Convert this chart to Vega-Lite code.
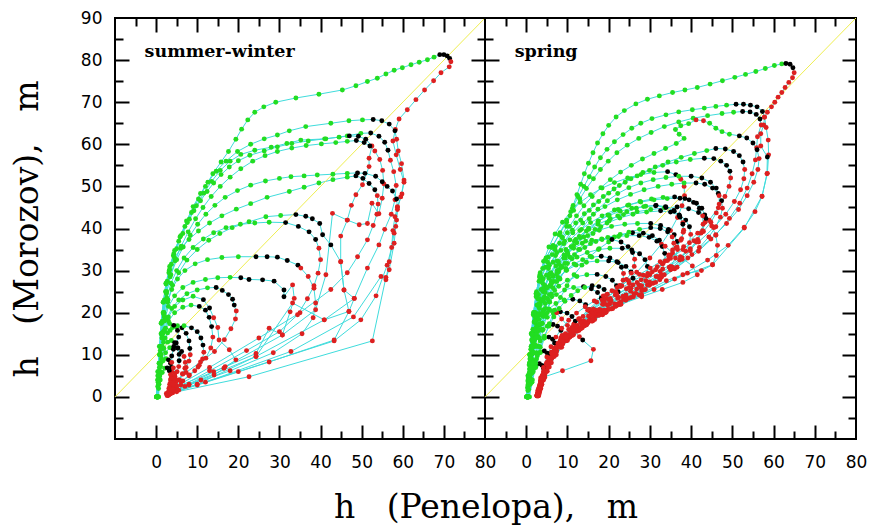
{
"$schema":"https://vega.github.io/schema/vega-lite/v6.json",
"background":"white",
"padding":{"left":10,"top":8,"right":5,"bottom":0},
"bounds":"flush",
"spacing":0,
"config":{"view":{"stroke":"black","strokeWidth":2},"axis":{"domain":false,"grid":false,"tickColor":"black","tickWidth":2,"labelFont":"DejaVu Sans","labelFontSize":17,"labelColor":"black","titleColor":"black","titleFont":"DejaVu Serif","titleFontSize":33,"titleFontWeight":"normal"}},
"datasets":{
"d":[{"x":-10,"y":0},{"x":80,"y":90}],
"a":[
{"t":1,"x":0.2,"y":0,"c":"g"},{"t":1,"x":0.4,"y":5,"c":"g"},{"t":1,"x":0.8,"y":10,"c":"g"},{"t":1,"x":1.2,"y":15,"c":"g"},{"t":1,"x":1.7,"y":20,"c":"g"},{"t":1,"x":2.3,"y":25,"c":"g"},{"t":1,"x":3.1,"y":29.5,"c":"g"},{"t":1,"x":4.2,"y":33.5,"c":"g"},{"t":1,"x":5.5,"y":37,"c":"g"},{"t":1,"x":7,"y":40.5,"c":"g"},{"t":1,"x":8.6,"y":43.8,"c":"g"},{"t":1,"x":10.3,"y":47,"c":"g"},{"t":1,"x":12,"y":50,"c":"g"},{"t":1,"x":13.8,"y":53,"c":"g"},{"t":1,"x":15.8,"y":55.8,"c":"g"},{"t":1,"x":17.6,"y":58.3,"c":"g"},{"t":1,"x":19.4,"y":61.2,"c":"g"},{"t":1,"x":20.8,"y":63.6,"c":"g"},{"t":1,"x":22.3,"y":65.8,"c":"g"},{"t":1,"x":24,"y":67.6,"c":"g"},{"t":1,"x":26.2,"y":68.9,"c":"g"},{"t":1,"x":29.1,"y":70,"c":"g"},{"t":1,"x":34,"y":71,"c":"g"},{"t":1,"x":39.6,"y":71.9,"c":"g"},{"t":1,"x":45.3,"y":72.9,"c":"g"},{"t":1,"x":48.6,"y":73.9,"c":"g"},{"t":1,"x":51.4,"y":74.9,"c":"g"},{"t":1,"x":53.8,"y":75.7,"c":"g"},{"t":1,"x":55.9,"y":76.7,"c":"g"},{"t":1,"x":57.9,"y":77.6,"c":"g"},{"t":1,"x":59.9,"y":78.2,"c":"g"},{"t":1,"x":62,"y":78.9,"c":"g"},{"t":1,"x":64,"y":79.5,"c":"g"},{"t":1,"x":66,"y":80.1,"c":"g"},{"t":1,"x":67.6,"y":80.7,"c":"g"},{"t":1,"x":69,"y":81.3,"c":"k"},{"t":1,"x":70,"y":81.3,"c":"k"},{"t":1,"x":70.8,"y":81,"c":"k"},{"t":1,"x":71.4,"y":80.4,"c":"k"},{"t":1,"x":71.7,"y":79.6,"c":"r"},{"t":1,"x":71.3,"y":78.4,"c":"r"},{"t":1,"x":69.3,"y":77,"c":"r"},{"t":1,"x":67.5,"y":75.1,"c":"r"},{"t":1,"x":65.3,"y":72.9,"c":"r"},{"t":1,"x":63.2,"y":70.6,"c":"r"},{"t":1,"x":61.1,"y":68.2,"c":"r"},{"t":1,"x":59.1,"y":66,"c":"r"},{"t":1,"x":58.2,"y":63.5,"c":"r"},{"t":1,"x":57.6,"y":60.8,"c":"r"},{"t":1,"x":58.4,"y":57.5,"c":"r"},{"t":1,"x":59.4,"y":54,"c":"r"},{"t":1,"x":60.3,"y":51,"c":"r"},{"t":1,"x":59.5,"y":47.5,"c":"r"},{"t":1,"x":58.7,"y":44.5,"c":"r"},{"t":1,"x":58.3,"y":40.5,"c":"r"},{"t":1,"x":57.9,"y":36.5,"c":"r"},{"t":1,"x":56.7,"y":30.2,"c":"r"},{"t":1,"x":55.9,"y":28.4,"c":"r"},{"t":1,"x":52.6,"y":13.3,"c":"r"},{"t":1,"x":22.6,"y":4.8,"c":"r"},{"t":1,"x":5,"y":1.2,"c":"r"},
{"t":2,"x":0.3,"y":0,"c":"g"},{"t":2,"x":0.6,"y":5,"c":"g"},{"t":2,"x":0.9,"y":10,"c":"g"},{"t":2,"x":1.3,"y":15,"c":"g"},{"t":2,"x":1.8,"y":20,"c":"g"},{"t":2,"x":2.4,"y":25,"c":"g"},{"t":2,"x":3.2,"y":30,"c":"g"},{"t":2,"x":4.3,"y":34,"c":"g"},{"t":2,"x":5.8,"y":38,"c":"g"},{"t":2,"x":7.4,"y":41.8,"c":"g"},{"t":2,"x":9,"y":45.2,"c":"g"},{"t":2,"x":10.8,"y":48.3,"c":"g"},{"t":2,"x":12.6,"y":51,"c":"g"},{"t":2,"x":14.6,"y":53.6,"c":"g"},{"t":2,"x":17,"y":56,"c":"g"},{"t":2,"x":19.8,"y":58.3,"c":"g"},{"t":2,"x":23,"y":60,"c":"g"},{"t":2,"x":26.3,"y":61.3,"c":"g"},{"t":2,"x":29.5,"y":62.2,"c":"g"},{"t":2,"x":32.4,"y":63.2,"c":"g"},{"t":2,"x":36.4,"y":64.2,"c":"g"},{"t":2,"x":42.5,"y":65,"c":"g"},{"t":2,"x":46.9,"y":65.6,"c":"g"},{"t":2,"x":50.2,"y":65.8,"c":"g"},{"t":2,"x":52.8,"y":65.9,"c":"k"},{"t":2,"x":54.9,"y":65.6,"c":"k"},{"t":2,"x":56.7,"y":64.8,"c":"k"},{"t":2,"x":58.1,"y":63.2,"c":"k"},{"t":2,"x":58.5,"y":61.2,"c":"r"},{"t":2,"x":58.9,"y":58.4,"c":"r"},{"t":2,"x":59.7,"y":55.4,"c":"r"},{"t":2,"x":60.3,"y":51.5,"c":"r"},{"t":2,"x":59.8,"y":48.2,"c":"r"},{"t":2,"x":58.7,"y":45.2,"c":"r"},{"t":2,"x":58.5,"y":42,"c":"r"},{"t":2,"x":57.9,"y":38.9,"c":"r"},{"t":2,"x":56.7,"y":32.1,"c":"r"},{"t":2,"x":55.9,"y":27.8,"c":"r"},{"t":2,"x":54.7,"y":28.6,"c":"r"},{"t":2,"x":48,"y":19,"c":"r"},{"t":2,"x":32.8,"y":10.8,"c":"r"},{"t":2,"x":12,"y":3.5,"c":"r"},{"t":2,"x":4,"y":1,"c":"r"},
{"t":3,"x":0.5,"y":0,"c":"g"},{"t":3,"x":0.8,"y":6,"c":"g"},{"t":3,"x":1.1,"y":12,"c":"g"},{"t":3,"x":1.5,"y":18,"c":"g"},{"t":3,"x":2,"y":23,"c":"g"},{"t":3,"x":2.7,"y":27.5,"c":"g"},{"t":3,"x":3.7,"y":31.5,"c":"g"},{"t":3,"x":5,"y":35.2,"c":"g"},{"t":3,"x":6.5,"y":38.8,"c":"g"},{"t":3,"x":8.1,"y":42.2,"c":"g"},{"t":3,"x":9.8,"y":45.4,"c":"g"},{"t":3,"x":11.6,"y":48.4,"c":"g"},{"t":3,"x":13.5,"y":51.2,"c":"g"},{"t":3,"x":15.6,"y":53.8,"c":"g"},{"t":3,"x":18,"y":56,"c":"g"},{"t":3,"x":20.6,"y":57.6,"c":"g"},{"t":3,"x":24,"y":58.6,"c":"g"},{"t":3,"x":28,"y":59.3,"c":"g"},{"t":3,"x":31.8,"y":60.2,"c":"g"},{"t":3,"x":35.2,"y":61,"c":"g"},{"t":3,"x":41.3,"y":61.3,"c":"g"},{"t":3,"x":46.5,"y":62,"c":"g"},{"t":3,"x":49.8,"y":62.6,"c":"g"},{"t":3,"x":52.2,"y":62.7,"c":"k"},{"t":3,"x":54.2,"y":61.9,"c":"k"},{"t":3,"x":55.6,"y":60.5,"c":"k"},{"t":3,"x":56.4,"y":58.6,"c":"k"},{"t":3,"x":57,"y":56.2,"c":"r"},{"t":3,"x":57.8,"y":53.5,"c":"r"},{"t":3,"x":58.4,"y":50.2,"c":"r"},{"t":3,"x":58.1,"y":46.8,"c":"r"},{"t":3,"x":57.2,"y":43.4,"c":"r"},{"t":3,"x":55.6,"y":39.8,"c":"r"},{"t":3,"x":54.2,"y":36.1,"c":"r"},{"t":3,"x":51.4,"y":30.6,"c":"r"},{"t":3,"x":48.2,"y":23.4,"c":"r"},{"t":3,"x":40.9,"y":18.3,"c":"r"},{"t":3,"x":24.3,"y":9.6,"c":"r"},{"t":3,"x":8,"y":3,"c":"r"},{"t":3,"x":3,"y":0.8,"c":"r"},
{"t":4,"x":0.2,"y":0,"c":"g"},{"t":4,"x":0.5,"y":6,"c":"g"},{"t":4,"x":0.9,"y":12,"c":"g"},{"t":4,"x":1.3,"y":17.5,"c":"g"},{"t":4,"x":1.8,"y":22.5,"c":"g"},{"t":4,"x":2.4,"y":27,"c":"g"},{"t":4,"x":3.3,"y":31,"c":"g"},{"t":4,"x":4.5,"y":34.8,"c":"g"},{"t":4,"x":6,"y":38.3,"c":"g"},{"t":4,"x":7.6,"y":41.4,"c":"g"},{"t":4,"x":9.2,"y":44.2,"c":"g"},{"t":4,"x":10.8,"y":46.6,"c":"g"},{"t":4,"x":12.4,"y":48.8,"c":"g"},{"t":4,"x":14,"y":50.8,"c":"g"},{"t":4,"x":15.8,"y":52.8,"c":"g"},{"t":4,"x":17.8,"y":54.6,"c":"g"},{"t":4,"x":20,"y":56.1,"c":"g"},{"t":4,"x":22.8,"y":57.4,"c":"g"},{"t":4,"x":26.3,"y":58.4,"c":"g"},{"t":4,"x":29.5,"y":59.4,"c":"g"},{"t":4,"x":33,"y":60.2,"c":"g"},{"t":4,"x":37,"y":60.8,"c":"g"},{"t":4,"x":41,"y":61.3,"c":"g"},{"t":4,"x":44.5,"y":61.7,"c":"g"},{"t":4,"x":47,"y":62,"c":"k"},{"t":4,"x":49.2,"y":61.9,"c":"k"},{"t":4,"x":51,"y":61.2,"c":"k"},{"t":4,"x":52.5,"y":59.6,"c":"r"},{"t":4,"x":51.8,"y":56.7,"c":"r"},{"t":4,"x":51.8,"y":54.7,"c":"r"},{"t":4,"x":50.2,"y":50.4,"c":"r"},{"t":4,"x":48.6,"y":48,"c":"r"},{"t":4,"x":47.5,"y":45.5,"c":"r"},{"t":4,"x":46.5,"y":42,"c":"r"},{"t":4,"x":44.9,"y":38.2,"c":"r"},{"t":4,"x":44.9,"y":32.1,"c":"r"},{"t":4,"x":45.7,"y":25.4,"c":"r"},{"t":4,"x":46.9,"y":20.3,"c":"r"},{"t":4,"x":43.3,"y":13.5,"c":"r"},{"t":4,"x":27.5,"y":8.3,"c":"r"},{"t":4,"x":10,"y":2.8,"c":"r"},{"t":4,"x":3.5,"y":0.8,"c":"r"},
{"t":5,"x":0.4,"y":0,"c":"g"},{"t":5,"x":0.7,"y":5,"c":"g"},{"t":5,"x":1,"y":10,"c":"g"},{"t":5,"x":1.4,"y":15,"c":"g"},{"t":5,"x":1.9,"y":20,"c":"g"},{"t":5,"x":2.5,"y":24.5,"c":"g"},{"t":5,"x":3.4,"y":28.5,"c":"g"},{"t":5,"x":4.6,"y":32.3,"c":"g"},{"t":5,"x":6.1,"y":35.8,"c":"g"},{"t":5,"x":7.8,"y":39.2,"c":"g"},{"t":5,"x":9.6,"y":42.3,"c":"g"},{"t":5,"x":11.4,"y":45,"c":"g"},{"t":5,"x":13.4,"y":47.6,"c":"g"},{"t":5,"x":15.6,"y":50,"c":"g"},{"t":5,"x":18,"y":52.2,"c":"g"},{"t":5,"x":20.6,"y":54.2,"c":"g"},{"t":5,"x":23.5,"y":56,"c":"g"},{"t":5,"x":26.5,"y":57.3,"c":"g"},{"t":5,"x":29.5,"y":58.3,"c":"g"},{"t":5,"x":33,"y":59.1,"c":"g"},{"t":5,"x":36.5,"y":59.7,"c":"g"},{"t":5,"x":40.2,"y":60.1,"c":"g"},{"t":5,"x":43.7,"y":60.4,"c":"g"},{"t":5,"x":46.5,"y":60.7,"c":"g"},{"t":5,"x":48.7,"y":60.9,"c":"k"},{"t":5,"x":50.6,"y":60.4,"c":"k"},{"t":5,"x":52,"y":59.6,"c":"k"},{"t":5,"x":53.2,"y":58.4,"c":"r"},{"t":5,"x":54.4,"y":56.4,"c":"r"},{"t":5,"x":55.1,"y":53.8,"c":"r"},{"t":5,"x":55.4,"y":50.6,"c":"r"},{"t":5,"x":55,"y":47.2,"c":"r"},{"t":5,"x":54.2,"y":43.5,"c":"r"},{"t":5,"x":52.5,"y":46,"c":"r"},{"t":5,"x":51.4,"y":41.2,"c":"r"},{"t":5,"x":49.4,"y":40.9,"c":"r"},{"t":5,"x":46.5,"y":42,"c":"r"},{"t":5,"x":42.9,"y":43.6,"c":"r"},{"t":5,"x":41.3,"y":29,"c":"r"},{"t":5,"x":38.8,"y":20.7,"c":"r"},{"t":5,"x":30.7,"y":14.7,"c":"r"},{"t":5,"x":16.8,"y":7.2,"c":"r"},{"t":5,"x":4.5,"y":1.5,"c":"r"},
{"t":6,"x":0.4,"y":0,"c":"g"},{"t":6,"x":0.7,"y":5,"c":"g"},{"t":6,"x":1,"y":10,"c":"g"},{"t":6,"x":1.4,"y":15,"c":"g"},{"t":6,"x":1.9,"y":20,"c":"g"},{"t":6,"x":2.6,"y":25,"c":"g"},{"t":6,"x":3.6,"y":29,"c":"g"},{"t":6,"x":5,"y":32.6,"c":"g"},{"t":6,"x":6.6,"y":35.6,"c":"g"},{"t":6,"x":8.3,"y":38.4,"c":"g"},{"t":6,"x":10.1,"y":41,"c":"g"},{"t":6,"x":12.1,"y":43.4,"c":"g"},{"t":6,"x":14.3,"y":45.5,"c":"g"},{"t":6,"x":16.8,"y":47.4,"c":"g"},{"t":6,"x":19.8,"y":49,"c":"g"},{"t":6,"x":23,"y":50.3,"c":"g"},{"t":6,"x":26.6,"y":51.3,"c":"g"},{"t":6,"x":30,"y":51.9,"c":"g"},{"t":6,"x":32.8,"y":52.3,"c":"g"},{"t":6,"x":36,"y":52.5,"c":"g"},{"t":6,"x":39.2,"y":52.7,"c":"g"},{"t":6,"x":43,"y":52.9,"c":"g"},{"t":6,"x":46.5,"y":53.1,"c":"g"},{"t":6,"x":49,"y":53.2,"c":"k"},{"t":6,"x":50.8,"y":53.1,"c":"k"},{"t":6,"x":53.4,"y":52.4,"c":"k"},{"t":6,"x":55,"y":51.1,"c":"k"},{"t":6,"x":56.2,"y":50,"c":"k"},{"t":6,"x":57.5,"y":48.9,"c":"k"},{"t":6,"x":58.5,"y":47,"c":"k"},{"t":6,"x":58.7,"y":45,"c":"r"},{"t":6,"x":58.1,"y":42.8,"c":"r"},{"t":6,"x":57.6,"y":39.5,"c":"r"},{"t":6,"x":57.3,"y":35.5,"c":"r"},{"t":6,"x":56.2,"y":31.3,"c":"r"},{"t":6,"x":53.5,"y":24,"c":"r"},{"t":6,"x":49.8,"y":18.3,"c":"r"},{"t":6,"x":43.3,"y":13.3,"c":"r"},{"t":6,"x":20,"y":6,"c":"r"},{"t":6,"x":5.5,"y":1.6,"c":"r"},
{"t":7,"x":0.1,"y":0,"c":"g"},{"t":7,"x":0.4,"y":6,"c":"g"},{"t":7,"x":0.8,"y":12,"c":"g"},{"t":7,"x":1.2,"y":17.5,"c":"g"},{"t":7,"x":1.7,"y":22.5,"c":"g"},{"t":7,"x":2.4,"y":26.8,"c":"g"},{"t":7,"x":3.3,"y":30.3,"c":"g"},{"t":7,"x":4.5,"y":33,"c":"g"},{"t":7,"x":6,"y":35.3,"c":"g"},{"t":7,"x":8,"y":37.4,"c":"g"},{"t":7,"x":10.3,"y":39.4,"c":"g"},{"t":7,"x":13,"y":41.3,"c":"g"},{"t":7,"x":16,"y":43,"c":"g"},{"t":7,"x":19.5,"y":44.6,"c":"g"},{"t":7,"x":23,"y":45.9,"c":"g"},{"t":7,"x":27,"y":47.4,"c":"g"},{"t":7,"x":32.4,"y":48.8,"c":"g"},{"t":7,"x":36,"y":49.8,"c":"g"},{"t":7,"x":39.6,"y":50.8,"c":"g"},{"t":7,"x":43,"y":51.6,"c":"g"},{"t":7,"x":46.5,"y":52.2,"c":"g"},{"t":7,"x":48.6,"y":52.5,"c":"k"},{"t":7,"x":50.3,"y":51.9,"c":"k"},{"t":7,"x":51.8,"y":50.7,"c":"k"},{"t":7,"x":53.2,"y":49.2,"c":"k"},{"t":7,"x":53.8,"y":47.8,"c":"r"},{"t":7,"x":54,"y":45.8,"c":"r"},{"t":7,"x":53.7,"y":43.4,"c":"r"},{"t":7,"x":52.8,"y":40.7,"c":"r"},{"t":7,"x":51.4,"y":37.3,"c":"r"},{"t":7,"x":49,"y":33.3,"c":"r"},{"t":7,"x":46.5,"y":29.5,"c":"r"},{"t":7,"x":42.5,"y":25.5,"c":"r"},{"t":7,"x":35,"y":20,"c":"r"},{"t":7,"x":25,"y":14,"c":"r"},{"t":7,"x":13,"y":7,"c":"r"},{"t":7,"x":4,"y":2,"c":"r"},
{"t":8,"x":0.6,"y":0,"c":"g"},{"t":8,"x":0.9,"y":5,"c":"g"},{"t":8,"x":1.2,"y":10,"c":"g"},{"t":8,"x":1.6,"y":15,"c":"g"},{"t":8,"x":2.1,"y":19,"c":"g"},{"t":8,"x":2.9,"y":23,"c":"g"},{"t":8,"x":4,"y":26.5,"c":"g"},{"t":8,"x":5.5,"y":29.5,"c":"g"},{"t":8,"x":7.5,"y":32.5,"c":"g"},{"t":8,"x":10,"y":35,"c":"g"},{"t":8,"x":12.8,"y":37.2,"c":"g"},{"t":8,"x":15.5,"y":38.8,"c":"g"},{"t":8,"x":18.5,"y":40.2,"c":"g"},{"t":8,"x":22.6,"y":41.6,"c":"g"},{"t":8,"x":26.7,"y":42.8,"c":"g"},{"t":8,"x":30.3,"y":43.1,"c":"g"},{"t":8,"x":34,"y":43.3,"c":"k"},{"t":8,"x":36.4,"y":42.9,"c":"k"},{"t":8,"x":38,"y":42.3,"c":"k"},{"t":8,"x":39.8,"y":41.2,"c":"k"},{"t":8,"x":40.5,"y":38.5,"c":"k"},{"t":8,"x":42.5,"y":36.1,"c":"k"},{"t":8,"x":44.9,"y":32.1,"c":"r"},{"t":8,"x":45.7,"y":25.4,"c":"r"},{"t":8,"x":48.2,"y":23.4,"c":"r"},{"t":8,"x":46.9,"y":20.3,"c":"r"},{"t":8,"x":40.9,"y":18.3,"c":"r"},{"t":8,"x":33.2,"y":22.3,"c":"r"},{"t":8,"x":24.3,"y":9.6,"c":"r"},{"t":8,"x":10,"y":3,"c":"r"},{"t":8,"x":3,"y":0.6,"c":"r"},
{"t":9,"x":0.3,"y":0,"c":"g"},{"t":9,"x":0.6,"y":5,"c":"g"},{"t":9,"x":1,"y":10,"c":"g"},{"t":9,"x":1.4,"y":15,"c":"g"},{"t":9,"x":1.9,"y":19.5,"c":"g"},{"t":9,"x":2.6,"y":23.5,"c":"g"},{"t":9,"x":3.6,"y":27,"c":"g"},{"t":9,"x":5,"y":30,"c":"g"},{"t":9,"x":6.8,"y":33,"c":"g"},{"t":9,"x":9,"y":35.5,"c":"g"},{"t":9,"x":11.5,"y":37.5,"c":"g"},{"t":9,"x":14,"y":39,"c":"g"},{"t":9,"x":17,"y":40.2,"c":"g"},{"t":9,"x":20.5,"y":41,"c":"g"},{"t":9,"x":24,"y":41.3,"c":"g"},{"t":9,"x":27.5,"y":41.5,"c":"g"},{"t":9,"x":31.5,"y":41.4,"c":"k"},{"t":9,"x":34.6,"y":40.5,"c":"k"},{"t":9,"x":37.2,"y":39.2,"c":"k"},{"t":9,"x":38.8,"y":37.4,"c":"k"},{"t":9,"x":39.6,"y":35.3,"c":"r"},{"t":9,"x":40,"y":32.6,"c":"r"},{"t":9,"x":39.4,"y":29.4,"c":"r"},{"t":9,"x":38.4,"y":26.4,"c":"r"},{"t":9,"x":36.8,"y":23.3,"c":"r"},{"t":9,"x":34.4,"y":19.5,"c":"r"},{"t":9,"x":30,"y":15.5,"c":"r"},{"t":9,"x":22,"y":11,"c":"r"},{"t":9,"x":13,"y":6.2,"c":"r"},{"t":9,"x":5,"y":2,"c":"r"},
{"t":10,"x":0.5,"y":0,"c":"g"},{"t":10,"x":0.8,"y":5,"c":"g"},{"t":10,"x":1.1,"y":10,"c":"g"},{"t":10,"x":1.5,"y":15,"c":"g"},{"t":10,"x":2,"y":19,"c":"g"},{"t":10,"x":2.8,"y":22.5,"c":"g"},{"t":10,"x":3.8,"y":25.5,"c":"g"},{"t":10,"x":5.2,"y":28,"c":"g"},{"t":10,"x":7,"y":30,"c":"g"},{"t":10,"x":9.5,"y":31.6,"c":"g"},{"t":10,"x":12.5,"y":32.6,"c":"g"},{"t":10,"x":16,"y":33.1,"c":"g"},{"t":10,"x":20,"y":33.3,"c":"g"},{"t":10,"x":24.3,"y":33.3,"c":"k"},{"t":10,"x":27,"y":33.3,"c":"k"},{"t":10,"x":29.5,"y":33.2,"c":"k"},{"t":10,"x":31.9,"y":32.4,"c":"k"},{"t":10,"x":34.5,"y":31.3,"c":"k"},{"t":10,"x":35.2,"y":30.6,"c":"r"},{"t":10,"x":37,"y":28.6,"c":"r"},{"t":10,"x":38.4,"y":25.8,"c":"r"},{"t":10,"x":38.8,"y":22.3,"c":"r"},{"t":10,"x":38.2,"y":18.8,"c":"r"},{"t":10,"x":35.5,"y":15,"c":"r"},{"t":10,"x":28.5,"y":10.5,"c":"r"},{"t":10,"x":18,"y":6.2,"c":"r"},{"t":10,"x":8,"y":2.8,"c":"r"},{"t":10,"x":3,"y":0.8,"c":"r"},
{"t":11,"x":0.3,"y":0,"c":"g"},{"t":11,"x":0.6,"y":5,"c":"g"},{"t":11,"x":1,"y":10,"c":"g"},{"t":11,"x":1.4,"y":14,"c":"g"},{"t":11,"x":2,"y":18,"c":"g"},{"t":11,"x":3,"y":21.5,"c":"g"},{"t":11,"x":4.5,"y":24,"c":"g"},{"t":11,"x":6.5,"y":26,"c":"g"},{"t":11,"x":9,"y":27.2,"c":"g"},{"t":11,"x":12,"y":27.9,"c":"g"},{"t":11,"x":15,"y":28.3,"c":"g"},{"t":11,"x":18,"y":28.4,"c":"g"},{"t":11,"x":20.6,"y":28.3,"c":"k"},{"t":11,"x":22.6,"y":27.9,"c":"k"},{"t":11,"x":25.9,"y":27.8,"c":"k"},{"t":11,"x":28.7,"y":27.5,"c":"k"},{"t":11,"x":31.1,"y":25.4,"c":"k"},{"t":11,"x":31.1,"y":23.8,"c":"k"},{"t":11,"x":33.2,"y":26.6,"c":"r"},{"t":11,"x":33.6,"y":23.4,"c":"r"},{"t":11,"x":32.6,"y":20.2,"c":"r"},{"t":11,"x":30.7,"y":14.7,"c":"r"},{"t":11,"x":27.5,"y":16.3,"c":"r"},{"t":11,"x":24.3,"y":10.3,"c":"r"},{"t":11,"x":14,"y":6,"c":"r"},{"t":11,"x":6,"y":2.8,"c":"r"},{"t":11,"x":2.5,"y":0.8,"c":"r"},
{"t":12,"x":0.1,"y":0,"c":"g"},{"t":12,"x":0.4,"y":4,"c":"g"},{"t":12,"x":0.8,"y":8,"c":"g"},{"t":12,"x":1.2,"y":12,"c":"g"},{"t":12,"x":1.7,"y":15.5,"c":"g"},{"t":12,"x":2.5,"y":18.5,"c":"g"},{"t":12,"x":3.8,"y":21,"c":"g"},{"t":12,"x":5.5,"y":23,"c":"g"},{"t":12,"x":7.5,"y":24.5,"c":"g"},{"t":12,"x":10,"y":25.4,"c":"g"},{"t":12,"x":12.5,"y":25.9,"c":"g"},{"t":12,"x":14.6,"y":26,"c":"k"},{"t":12,"x":16.1,"y":25.3,"c":"k"},{"t":12,"x":17.6,"y":24.3,"c":"k"},{"t":12,"x":18.6,"y":23.2,"c":"k"},{"t":12,"x":19,"y":21.8,"c":"k"},{"t":12,"x":19.5,"y":20.4,"c":"r"},{"t":12,"x":19.3,"y":18.5,"c":"r"},{"t":12,"x":18.2,"y":16.2,"c":"r"},{"t":12,"x":16.6,"y":13.6,"c":"r"},{"t":12,"x":14.2,"y":10.8,"c":"r"},{"t":12,"x":10.8,"y":8.3,"c":"r"},{"t":12,"x":7.3,"y":5.8,"c":"r"},{"t":12,"x":4.8,"y":3.6,"c":"r"},{"t":12,"x":3.2,"y":1.6,"c":"r"},{"t":12,"x":2.6,"y":0.5,"c":"r"},
{"t":13,"x":0.4,"y":0,"c":"g"},{"t":13,"x":0.7,"y":4,"c":"g"},{"t":13,"x":1,"y":8,"c":"g"},{"t":13,"x":1.4,"y":12,"c":"g"},{"t":13,"x":2,"y":15.5,"c":"g"},{"t":13,"x":3,"y":18,"c":"g"},{"t":13,"x":4.5,"y":20,"c":"g"},{"t":13,"x":6.5,"y":21.3,"c":"g"},{"t":13,"x":8.5,"y":21.8,"c":"g"},{"t":13,"x":10.5,"y":21.5,"c":"k"},{"t":13,"x":12,"y":20.6,"c":"k"},{"t":13,"x":12.9,"y":18.9,"c":"k"},{"t":13,"x":13.5,"y":16.7,"c":"k"},{"t":13,"x":13.8,"y":14.2,"c":"r"},{"t":13,"x":13.3,"y":11.6,"c":"r"},{"t":13,"x":12.1,"y":9.2,"c":"r"},{"t":13,"x":10.2,"y":7.1,"c":"r"},{"t":13,"x":8.1,"y":5.2,"c":"r"},{"t":13,"x":6.1,"y":3.6,"c":"r"},{"t":13,"x":4.3,"y":2.1,"c":"r"},{"t":13,"x":3.3,"y":0.8,"c":"r"},
{"t":14,"x":0.2,"y":0,"c":"g"},{"t":14,"x":0.5,"y":3.5,"c":"g"},{"t":14,"x":0.8,"y":7,"c":"g"},{"t":14,"x":1.2,"y":10,"c":"g"},{"t":14,"x":1.8,"y":13,"c":"g"},{"t":14,"x":2.8,"y":15.2,"c":"g"},{"t":14,"x":4,"y":16.5,"c":"g"},{"t":14,"x":5.2,"y":16.9,"c":"g"},{"t":14,"x":6.3,"y":16.4,"c":"k"},{"t":14,"x":7.3,"y":15.1,"c":"k"},{"t":14,"x":8,"y":13.3,"c":"k"},{"t":14,"x":8.2,"y":11.5,"c":"k"},{"t":14,"x":8.3,"y":10,"c":"r"},{"t":14,"x":8,"y":8.5,"c":"r"},{"t":14,"x":7.3,"y":7,"c":"r"},{"t":14,"x":6.4,"y":5.5,"c":"r"},{"t":14,"x":5.4,"y":4,"c":"r"},{"t":14,"x":4.4,"y":2.8,"c":"r"},{"t":14,"x":3.6,"y":1.5,"c":"r"},{"t":14,"x":3,"y":0.5,"c":"r"},
{"t":15,"x":0.3,"y":0,"c":"g"},{"t":15,"x":0.6,"y":3,"c":"g"},{"t":15,"x":0.9,"y":6,"c":"g"},{"t":15,"x":1.3,"y":9,"c":"g"},{"t":15,"x":1.9,"y":11.5,"c":"g"},{"t":15,"x":2.8,"y":13,"c":"g"},{"t":15,"x":3.7,"y":13.4,"c":"g"},{"t":15,"x":4.5,"y":12.9,"c":"k"},{"t":15,"x":5.2,"y":11.6,"c":"k"},{"t":15,"x":5.6,"y":10.1,"c":"k"},{"t":15,"x":5.6,"y":8.6,"c":"k"},{"t":15,"x":5.5,"y":7.2,"c":"r"},{"t":15,"x":5.1,"y":6,"c":"r"},{"t":15,"x":4.6,"y":4.8,"c":"r"},{"t":15,"x":4.1,"y":3.6,"c":"r"},{"t":15,"x":3.6,"y":2.4,"c":"r"},{"t":15,"x":3.2,"y":1.3,"c":"r"},{"t":15,"x":2.9,"y":0.4,"c":"r"},
{"t":16,"x":0.1,"y":0,"c":"g"},{"t":16,"x":0.4,"y":2.5,"c":"g"},{"t":16,"x":0.7,"y":5,"c":"g"},{"t":16,"x":1.1,"y":7.2,"c":"g"},{"t":16,"x":1.7,"y":8.6,"c":"g"},{"t":16,"x":2.4,"y":9.1,"c":"g"},{"t":16,"x":3,"y":8.8,"c":"k"},{"t":16,"x":3.5,"y":8,"c":"k"},{"t":16,"x":3.7,"y":7,"c":"k"},{"t":16,"x":3.8,"y":6,"c":"r"},{"t":16,"x":3.7,"y":5,"c":"r"},{"t":16,"x":3.5,"y":4,"c":"r"},{"t":16,"x":3.3,"y":3,"c":"r"},{"t":16,"x":3.1,"y":2,"c":"r"},{"t":16,"x":2.9,"y":1,"c":"r"},{"t":16,"x":2.7,"y":0.3,"c":"r"},
{"t":17,"x":0.5,"y":0,"c":"g"},{"t":17,"x":0.8,"y":4,"c":"g"},{"t":17,"x":1.1,"y":8,"c":"g"},{"t":17,"x":1.5,"y":12,"c":"g"},{"t":17,"x":2.1,"y":16,"c":"g"},{"t":17,"x":3,"y":19,"c":"g"},{"t":17,"x":4.5,"y":21.5,"c":"g"},{"t":17,"x":6.5,"y":23,"c":"g"},{"t":17,"x":9,"y":23.9,"c":"g"},{"t":17,"x":11.5,"y":23.1,"c":"k"},{"t":17,"x":13,"y":21.1,"c":"k"},{"t":17,"x":14,"y":18.8,"c":"r"},{"t":17,"x":15,"y":16.5,"c":"r"},{"t":17,"x":15.3,"y":13.5,"c":"r"},{"t":17,"x":17.8,"y":11.2,"c":"r"},{"t":17,"x":19.4,"y":8.8,"c":"r"},{"t":17,"x":16.5,"y":6.8,"c":"r"},{"t":17,"x":14.1,"y":5.2,"c":"r"},{"t":17,"x":10.9,"y":4,"c":"r"},{"t":17,"x":7,"y":2.5,"c":"r"},{"t":17,"x":4,"y":1,"c":"r"},
{"t":18,"x":0.2,"y":0,"c":"g"},{"t":18,"x":0.5,"y":4,"c":"g"},{"t":18,"x":0.9,"y":8,"c":"g"},{"t":18,"x":1.4,"y":11.5,"c":"g"},{"t":18,"x":2.2,"y":14,"c":"g"},{"t":18,"x":3.4,"y":15.8,"c":"g"},{"t":18,"x":5,"y":16.6,"c":"g"},{"t":18,"x":6.8,"y":16.9,"c":"g"},{"t":18,"x":8.6,"y":16.4,"c":"k"},{"t":18,"x":10,"y":15.5,"c":"k"},{"t":18,"x":10.9,"y":14,"c":"k"},{"t":18,"x":11.4,"y":12.3,"c":"k"},{"t":18,"x":11.6,"y":10.6,"c":"r"},{"t":18,"x":11.3,"y":9,"c":"r"},{"t":18,"x":10.5,"y":7.5,"c":"r"},{"t":18,"x":9.4,"y":6.2,"c":"r"},{"t":18,"x":8,"y":5,"c":"r"},{"t":18,"x":6.5,"y":3.8,"c":"r"},{"t":18,"x":5,"y":2.6,"c":"r"},{"t":18,"x":3.7,"y":1.4,"c":"r"},{"t":18,"x":3,"y":0.4,"c":"r"},
{"t":19,"x":0.4,"y":0,"c":"g"},{"t":19,"x":0.7,"y":3,"c":"g"},{"t":19,"x":1,"y":6,"c":"g"},{"t":19,"x":1.5,"y":8.5,"c":"g"},{"t":19,"x":2.3,"y":10.5,"c":"g"},{"t":19,"x":3.3,"y":11.7,"c":"g"},{"t":19,"x":4.3,"y":12,"c":"k"},{"t":19,"x":5.3,"y":11.6,"c":"k"},{"t":19,"x":6.2,"y":10.8,"c":"k"},{"t":19,"x":6.8,"y":9.6,"c":"r"},{"t":19,"x":7.1,"y":8.2,"c":"r"},{"t":19,"x":7,"y":6.8,"c":"r"},{"t":19,"x":6.5,"y":5.4,"c":"r"},{"t":19,"x":5.7,"y":4,"c":"r"},{"t":19,"x":4.8,"y":2.8,"c":"r"},{"t":19,"x":4,"y":1.7,"c":"r"},{"t":19,"x":3.4,"y":0.7,"c":"r"},
{"t":20,"x":0.3,"y":0,"c":"g"},{"t":20,"x":0.6,"y":2,"c":"g"},{"t":20,"x":1,"y":4,"c":"g"},{"t":20,"x":1.5,"y":5.8,"c":"g"},{"t":20,"x":2.1,"y":6.8,"c":"g"},{"t":20,"x":2.7,"y":6.9,"c":"k"},{"t":20,"x":3.2,"y":6.2,"c":"k"},{"t":20,"x":3.5,"y":5.3,"c":"r"},{"t":20,"x":3.6,"y":4.3,"c":"r"},{"t":20,"x":3.5,"y":3.3,"c":"r"},{"t":20,"x":3.3,"y":2.3,"c":"r"},{"t":20,"x":3.1,"y":1.3,"c":"r"},{"t":20,"x":2.9,"y":0.5,"c":"r"},
{"t":21,"x":0.1,"y":0,"c":"g"},{"t":21,"x":0.4,"y":4,"c":"g"},{"t":21,"x":0.7,"y":8,"c":"g"},{"t":21,"x":1,"y":11,"c":"g"},{"t":21,"x":1.5,"y":14,"c":"g"},{"t":21,"x":2.3,"y":16.3,"c":"g"},{"t":21,"x":3.3,"y":17.4,"c":"g"},{"t":21,"x":4.3,"y":17,"c":"k"},{"t":21,"x":5.2,"y":15.8,"c":"k"},{"t":21,"x":5.5,"y":14.2,"c":"k"},{"t":21,"x":4.9,"y":12.8,"c":"k"},{"t":21,"x":4.2,"y":11.3,"c":"k"},{"t":21,"x":3.8,"y":9.7,"c":"k"},{"t":21,"x":3.8,"y":8.2,"c":"r"},{"t":21,"x":4.2,"y":6.9,"c":"r"},{"t":21,"x":4.6,"y":5.6,"c":"r"},{"t":21,"x":4.5,"y":4.3,"c":"r"},{"t":21,"x":4.1,"y":3,"c":"r"},{"t":21,"x":3.6,"y":1.8,"c":"r"},{"t":21,"x":3.2,"y":0.6,"c":"r"}
],
"b":[
{"t":1,"x":0.2,"y":0,"c":"g"},{"t":1,"x":0.5,"y":4,"c":"g"},{"t":1,"x":0.8,"y":8,"c":"g"},{"t":1,"x":1.2,"y":12,"c":"g"},{"t":1,"x":1.6,"y":16,"c":"g"},{"t":1,"x":2.1,"y":20,"c":"g"},{"t":1,"x":2.6,"y":24,"c":"g"},{"t":1,"x":3.1,"y":27.5,"c":"g"},{"t":1,"x":4,"y":30.5,"c":"g"},{"t":1,"x":5.3,"y":33.2,"c":"g"},{"t":1,"x":7,"y":35.7,"c":"g"},{"t":1,"x":8.6,"y":38,"c":"g"},{"t":1,"x":9.8,"y":40.5,"c":"g"},{"t":1,"x":10.6,"y":43,"c":"g"},{"t":1,"x":11.4,"y":45.5,"c":"g"},{"t":1,"x":12.3,"y":48,"c":"g"},{"t":1,"x":13.2,"y":50.5,"c":"g"},{"t":1,"x":14.1,"y":53,"c":"g"},{"t":1,"x":15.1,"y":55.5,"c":"g"},{"t":1,"x":16.2,"y":58,"c":"g"},{"t":1,"x":17.3,"y":60.3,"c":"g"},{"t":1,"x":18.6,"y":62.5,"c":"g"},{"t":1,"x":20,"y":64.5,"c":"g"},{"t":1,"x":21.8,"y":66.5,"c":"g"},{"t":1,"x":23.8,"y":68,"c":"g"},{"t":1,"x":26.6,"y":69.6,"c":"g"},{"t":1,"x":29.4,"y":70.7,"c":"g"},{"t":1,"x":32.3,"y":71.5,"c":"g"},{"t":1,"x":35.5,"y":72.3,"c":"g"},{"t":1,"x":38.5,"y":72.9,"c":"g"},{"t":1,"x":41.5,"y":73.5,"c":"g"},{"t":1,"x":44.6,"y":74.3,"c":"g"},{"t":1,"x":47.6,"y":75.1,"c":"g"},{"t":1,"x":50.6,"y":75.9,"c":"g"},{"t":1,"x":53.2,"y":76.6,"c":"g"},{"t":1,"x":55.7,"y":77.3,"c":"g"},{"t":1,"x":58,"y":78,"c":"g"},{"t":1,"x":60.2,"y":78.7,"c":"g"},{"t":1,"x":62,"y":79.1,"c":"g"},{"t":1,"x":63,"y":79.2,"c":"k"},{"t":1,"x":64,"y":79,"c":"k"},{"t":1,"x":64.7,"y":78.2,"c":"k"},{"t":1,"x":65,"y":77,"c":"r"},{"t":1,"x":64.6,"y":75.8,"c":"r"},{"t":1,"x":63.7,"y":74.7,"c":"r"},{"t":1,"x":62.8,"y":73.5,"c":"r"},{"t":1,"x":62,"y":72.3,"c":"r"},{"t":1,"x":61.1,"y":71.2,"c":"r"},{"t":1,"x":60.3,"y":70,"c":"r"},{"t":1,"x":59.5,"y":68.9,"c":"r"},{"t":1,"x":58.5,"y":67.6,"c":"r"},{"t":1,"x":57.8,"y":66.5,"c":"r"},{"t":1,"x":58.2,"y":64,"c":"r"},{"t":1,"x":58.7,"y":61,"c":"r"},{"t":1,"x":58.8,"y":57.5,"c":"r"},{"t":1,"x":58.5,"y":53.1,"c":"r"},{"t":1,"x":57.2,"y":47.7,"c":"r"},{"t":1,"x":52.9,"y":40.1,"c":"r"},{"t":1,"x":45.2,"y":31.4,"c":"r"},{"t":1,"x":36,"y":28,"c":"r"},{"t":1,"x":28,"y":24.2,"c":"r"},{"t":1,"x":21,"y":21,"c":"r"},{"t":1,"x":15,"y":17.6,"c":"r"},{"t":1,"x":10,"y":14.2,"c":"r"},{"t":1,"x":7,"y":10.6,"c":"r"},{"t":1,"x":5,"y":7,"c":"r"},{"t":1,"x":3.8,"y":3.8,"c":"r"},{"t":1,"x":3,"y":1,"c":"r"},
{"t":2,"x":0.4,"y":0,"c":"g"},{"t":2,"x":0.7,"y":5,"c":"g"},{"t":2,"x":1,"y":10,"c":"g"},{"t":2,"x":1.4,"y":15,"c":"g"},{"t":2,"x":1.9,"y":20,"c":"g"},{"t":2,"x":2.5,"y":25,"c":"g"},{"t":2,"x":3.4,"y":29.5,"c":"g"},{"t":2,"x":4.8,"y":33,"c":"g"},{"t":2,"x":6.5,"y":36,"c":"g"},{"t":2,"x":8.2,"y":39,"c":"g"},{"t":2,"x":9.8,"y":42,"c":"g"},{"t":2,"x":11.2,"y":44.8,"c":"g"},{"t":2,"x":12.6,"y":47.5,"c":"g"},{"t":2,"x":14,"y":50,"c":"g"},{"t":2,"x":15.3,"y":52.3,"c":"g"},{"t":2,"x":16.6,"y":54.6,"c":"g"},{"t":2,"x":18,"y":56.8,"c":"g"},{"t":2,"x":19.6,"y":58.8,"c":"g"},{"t":2,"x":21.4,"y":60.6,"c":"g"},{"t":2,"x":23.5,"y":62.3,"c":"g"},{"t":2,"x":25.6,"y":63.8,"c":"g"},{"t":2,"x":27.8,"y":65,"c":"g"},{"t":2,"x":30.5,"y":66.1,"c":"g"},{"t":2,"x":33.9,"y":67,"c":"g"},{"t":2,"x":37,"y":67.7,"c":"g"},{"t":2,"x":40.3,"y":68.2,"c":"g"},{"t":2,"x":43.2,"y":68.6,"c":"g"},{"t":2,"x":46,"y":69,"c":"g"},{"t":2,"x":48.6,"y":69.3,"c":"g"},{"t":2,"x":50.9,"y":69.5,"c":"k"},{"t":2,"x":52.7,"y":69.5,"c":"k"},{"t":2,"x":54.4,"y":69.3,"c":"k"},{"t":2,"x":56,"y":68.9,"c":"k"},{"t":2,"x":57.3,"y":67.8,"c":"k"},{"t":2,"x":57.8,"y":66.4,"c":"r"},{"t":2,"x":57.6,"y":64.6,"c":"r"},{"t":2,"x":56.9,"y":62.5,"c":"r"},{"t":2,"x":56.9,"y":59.6,"c":"r"},{"t":2,"x":58.5,"y":57,"c":"k"},{"t":2,"x":58.4,"y":53,"c":"r"},{"t":2,"x":57.2,"y":47.6,"c":"r"},{"t":2,"x":55.5,"y":44,"c":"r"},{"t":2,"x":52.9,"y":40.3,"c":"r"},{"t":2,"x":49,"y":36,"c":"r"},{"t":2,"x":44,"y":32.5,"c":"r"},{"t":2,"x":38,"y":29,"c":"r"},{"t":2,"x":31,"y":25.5,"c":"r"},{"t":2,"x":22,"y":22,"c":"r"},{"t":2,"x":16.5,"y":18.8,"c":"r"},{"t":2,"x":11.5,"y":15.8,"c":"r"},{"t":2,"x":8,"y":12.5,"c":"r"},{"t":2,"x":5.8,"y":9,"c":"r"},{"t":2,"x":4.3,"y":5.5,"c":"r"},{"t":2,"x":3.2,"y":2,"c":"r"},{"t":2,"x":2.6,"y":0.3,"c":"r"},
{"t":3,"x":0.2,"y":0,"c":"g"},{"t":3,"x":0.5,"y":5,"c":"g"},{"t":3,"x":0.9,"y":10,"c":"g"},{"t":3,"x":1.3,"y":15,"c":"g"},{"t":3,"x":1.8,"y":20,"c":"g"},{"t":3,"x":2.4,"y":24.5,"c":"g"},{"t":3,"x":3.3,"y":29,"c":"g"},{"t":3,"x":4.6,"y":32.5,"c":"g"},{"t":3,"x":6.2,"y":35.5,"c":"g"},{"t":3,"x":8,"y":38.5,"c":"g"},{"t":3,"x":9.8,"y":41.5,"c":"g"},{"t":3,"x":11.5,"y":44.3,"c":"g"},{"t":3,"x":13,"y":47,"c":"g"},{"t":3,"x":14.6,"y":49.5,"c":"g"},{"t":3,"x":16.3,"y":51.8,"c":"g"},{"t":3,"x":18,"y":54,"c":"g"},{"t":3,"x":19.9,"y":56,"c":"g"},{"t":3,"x":22,"y":58,"c":"g"},{"t":3,"x":24.5,"y":59.8,"c":"g"},{"t":3,"x":27.3,"y":61.4,"c":"g"},{"t":3,"x":30.3,"y":62.8,"c":"g"},{"t":3,"x":33.5,"y":64.2,"c":"g"},{"t":3,"x":37,"y":65.3,"c":"g"},{"t":3,"x":40.5,"y":66.2,"c":"g"},{"t":3,"x":44,"y":66.8,"c":"g"},{"t":3,"x":47.5,"y":67.3,"c":"g"},{"t":3,"x":50.3,"y":67.6,"c":"g"},{"t":3,"x":52.5,"y":67.8,"c":"k"},{"t":3,"x":54.3,"y":67.7,"c":"k"},{"t":3,"x":55.8,"y":67.1,"c":"k"},{"t":3,"x":56.7,"y":66,"c":"k"},{"t":3,"x":57,"y":64.6,"c":"r"},{"t":3,"x":56.1,"y":61.8,"c":"r"},{"t":3,"x":55.9,"y":59.2,"c":"r"},{"t":3,"x":55.6,"y":56.3,"c":"r"},{"t":3,"x":54.8,"y":53,"c":"r"},{"t":3,"x":53.6,"y":49.6,"c":"r"},{"t":3,"x":51.8,"y":46,"c":"r"},{"t":3,"x":49.3,"y":42.4,"c":"r"},{"t":3,"x":46,"y":38.5,"c":"r"},{"t":3,"x":41.8,"y":34.6,"c":"r"},{"t":3,"x":36.6,"y":30.8,"c":"r"},{"t":3,"x":30.8,"y":27,"c":"r"},{"t":3,"x":24.8,"y":23.4,"c":"r"},{"t":3,"x":17.5,"y":20,"c":"r"},{"t":3,"x":12.5,"y":16.5,"c":"r"},{"t":3,"x":8.6,"y":13.5,"c":"r"},{"t":3,"x":6.3,"y":10.5,"c":"r"},{"t":3,"x":4.7,"y":7.3,"c":"r"},{"t":3,"x":3.6,"y":4,"c":"r"},{"t":3,"x":2.9,"y":1.2,"c":"r"},
{"t":4,"x":0.3,"y":0,"c":"g"},{"t":4,"x":0.6,"y":5,"c":"g"},{"t":4,"x":1,"y":10,"c":"g"},{"t":4,"x":1.4,"y":15,"c":"g"},{"t":4,"x":2,"y":20,"c":"g"},{"t":4,"x":2.7,"y":24.5,"c":"g"},{"t":4,"x":3.7,"y":28.5,"c":"g"},{"t":4,"x":5.2,"y":32,"c":"g"},{"t":4,"x":7,"y":35,"c":"g"},{"t":4,"x":8.8,"y":37.8,"c":"g"},{"t":4,"x":10.5,"y":40.5,"c":"g"},{"t":4,"x":12.2,"y":43,"c":"g"},{"t":4,"x":14,"y":45.4,"c":"g"},{"t":4,"x":16,"y":47.6,"c":"g"},{"t":4,"x":18.1,"y":49.7,"c":"g"},{"t":4,"x":20.4,"y":51.6,"c":"g"},{"t":4,"x":22.9,"y":53.4,"c":"g"},{"t":4,"x":25.5,"y":55,"c":"g"},{"t":4,"x":28.2,"y":56.5,"c":"g"},{"t":4,"x":31,"y":57.8,"c":"g"},{"t":4,"x":33.8,"y":59,"c":"g"},{"t":4,"x":36.4,"y":60.2,"c":"g"},{"t":4,"x":38.3,"y":61.4,"c":"g"},{"t":4,"x":37.1,"y":62.4,"c":"g"},{"t":4,"x":36.2,"y":63.5,"c":"g"},{"t":4,"x":37.5,"y":64.4,"c":"g"},{"t":4,"x":39.4,"y":64.9,"c":"g"},{"t":4,"x":41.2,"y":65.8,"c":"r"},{"t":4,"x":43,"y":65.6,"c":"r"},{"t":4,"x":44.5,"y":65,"c":"g"},{"t":4,"x":46,"y":63.8,"c":"g"},{"t":4,"x":47.5,"y":63,"c":"g"},{"t":4,"x":49.3,"y":62.4,"c":"g"},{"t":4,"x":51.7,"y":62,"c":"k"},{"t":4,"x":53.5,"y":61.5,"c":"k"},{"t":4,"x":55,"y":60.3,"c":"k"},{"t":4,"x":56,"y":58.7,"c":"k"},{"t":4,"x":56.5,"y":56.6,"c":"r"},{"t":4,"x":56.2,"y":54,"c":"r"},{"t":4,"x":55.2,"y":51,"c":"r"},{"t":4,"x":53.6,"y":47.8,"c":"r"},{"t":4,"x":51.5,"y":44.5,"c":"r"},{"t":4,"x":48.6,"y":41.2,"c":"r"},{"t":4,"x":44.8,"y":37.5,"c":"r"},{"t":4,"x":40.2,"y":33.8,"c":"r"},{"t":4,"x":35,"y":30.2,"c":"r"},{"t":4,"x":29.4,"y":26.6,"c":"r"},{"t":4,"x":23.6,"y":23.4,"c":"r"},{"t":4,"x":18.3,"y":20.4,"c":"r"},{"t":4,"x":13.5,"y":17.3,"c":"r"},{"t":4,"x":9.5,"y":14.3,"c":"r"},{"t":4,"x":6.9,"y":11.3,"c":"r"},{"t":4,"x":5,"y":8.2,"c":"r"},{"t":4,"x":3.9,"y":5,"c":"r"},{"t":4,"x":3.1,"y":2,"c":"r"},{"t":4,"x":2.7,"y":0.5,"c":"r"},
{"t":5,"x":0.5,"y":0,"c":"g"},{"t":5,"x":0.8,"y":5,"c":"g"},{"t":5,"x":1.1,"y":10,"c":"g"},{"t":5,"x":1.6,"y":15,"c":"g"},{"t":5,"x":2.2,"y":20,"c":"g"},{"t":5,"x":3,"y":24.3,"c":"g"},{"t":5,"x":4.1,"y":28,"c":"g"},{"t":5,"x":5.6,"y":31.3,"c":"g"},{"t":5,"x":7.4,"y":34.3,"c":"g"},{"t":5,"x":9.3,"y":37,"c":"g"},{"t":5,"x":11.2,"y":39.6,"c":"g"},{"t":5,"x":13.2,"y":42,"c":"g"},{"t":5,"x":15.3,"y":44.3,"c":"g"},{"t":5,"x":17.6,"y":46.4,"c":"g"},{"t":5,"x":20,"y":48.4,"c":"g"},{"t":5,"x":22.6,"y":50.2,"c":"g"},{"t":5,"x":25.4,"y":51.8,"c":"g"},{"t":5,"x":28.3,"y":53.3,"c":"g"},{"t":5,"x":31.3,"y":54.6,"c":"g"},{"t":5,"x":34.4,"y":55.8,"c":"g"},{"t":5,"x":37.6,"y":56.9,"c":"g"},{"t":5,"x":40.8,"y":57.8,"c":"g"},{"t":5,"x":43.8,"y":58.5,"c":"g"},{"t":5,"x":46,"y":59,"c":"k"},{"t":5,"x":48.3,"y":58.9,"c":"k"},{"t":5,"x":50.3,"y":58.3,"c":"k"},{"t":5,"x":51.7,"y":57.3,"c":"k"},{"t":5,"x":52.6,"y":55.8,"c":"k"},{"t":5,"x":53,"y":54,"c":"r"},{"t":5,"x":52.8,"y":51.8,"c":"r"},{"t":5,"x":52,"y":49.2,"c":"r"},{"t":5,"x":50.5,"y":46.4,"c":"r"},{"t":5,"x":48.4,"y":43.4,"c":"r"},{"t":5,"x":45.5,"y":40.2,"c":"r"},{"t":5,"x":41.8,"y":36.8,"c":"r"},{"t":5,"x":37.4,"y":33.3,"c":"r"},{"t":5,"x":32.5,"y":29.8,"c":"r"},{"t":5,"x":27.3,"y":26.6,"c":"r"},{"t":5,"x":22.4,"y":23.6,"c":"r"},{"t":5,"x":17.8,"y":20.8,"c":"r"},{"t":5,"x":13.6,"y":17.8,"c":"r"},{"t":5,"x":10,"y":14.8,"c":"r"},{"t":5,"x":7.3,"y":11.8,"c":"r"},{"t":5,"x":5.4,"y":8.6,"c":"r"},{"t":5,"x":4.1,"y":5.4,"c":"r"},{"t":5,"x":3.3,"y":2.4,"c":"r"},{"t":5,"x":2.8,"y":0.4,"c":"r"},
{"t":6,"x":0.1,"y":0,"c":"g"},{"t":6,"x":0.4,"y":5,"c":"g"},{"t":6,"x":0.8,"y":10,"c":"g"},{"t":6,"x":1.2,"y":15,"c":"g"},{"t":6,"x":1.7,"y":19.5,"c":"g"},{"t":6,"x":2.4,"y":23.8,"c":"g"},{"t":6,"x":3.4,"y":27.5,"c":"g"},{"t":6,"x":4.7,"y":30.8,"c":"g"},{"t":6,"x":6.3,"y":33.8,"c":"g"},{"t":6,"x":8.1,"y":36.5,"c":"g"},{"t":6,"x":10,"y":39,"c":"g"},{"t":6,"x":12,"y":41.3,"c":"g"},{"t":6,"x":14.1,"y":43.5,"c":"g"},{"t":6,"x":16.3,"y":45.6,"c":"g"},{"t":6,"x":18.7,"y":47.6,"c":"g"},{"t":6,"x":21.3,"y":49.4,"c":"g"},{"t":6,"x":24,"y":51,"c":"g"},{"t":6,"x":26.9,"y":52.5,"c":"g"},{"t":6,"x":29.9,"y":53.8,"c":"g"},{"t":6,"x":33.1,"y":55,"c":"g"},{"t":6,"x":36.4,"y":55.8,"c":"g"},{"t":6,"x":39.8,"y":56.4,"c":"g"},{"t":6,"x":43.2,"y":56.7,"c":"k"},{"t":6,"x":45.5,"y":56.6,"c":"k"},{"t":6,"x":47.2,"y":56,"c":"k"},{"t":6,"x":48.6,"y":55,"c":"k"},{"t":6,"x":49.4,"y":53.6,"c":"k"},{"t":6,"x":49.6,"y":52,"c":"r"},{"t":6,"x":49.2,"y":50,"c":"r"},{"t":6,"x":48.2,"y":47.6,"c":"r"},{"t":6,"x":46.6,"y":44.9,"c":"r"},{"t":6,"x":44.4,"y":42,"c":"r"},{"t":6,"x":41.6,"y":38.9,"c":"r"},{"t":6,"x":38.2,"y":35.7,"c":"r"},{"t":6,"x":34.3,"y":32.4,"c":"r"},{"t":6,"x":30,"y":29,"c":"r"},{"t":6,"x":25.4,"y":25.8,"c":"r"},{"t":6,"x":20.6,"y":22.8,"c":"r"},{"t":6,"x":15.8,"y":19.6,"c":"r"},{"t":6,"x":11.6,"y":16.4,"c":"r"},{"t":6,"x":8.2,"y":13.2,"c":"r"},{"t":6,"x":5.9,"y":10,"c":"r"},{"t":6,"x":4.4,"y":6.8,"c":"r"},{"t":6,"x":3.5,"y":3.8,"c":"r"},{"t":6,"x":2.9,"y":1,"c":"r"},
{"t":7,"x":0.3,"y":0,"c":"g"},{"t":7,"x":0.6,"y":5,"c":"g"},{"t":7,"x":0.9,"y":10,"c":"g"},{"t":7,"x":1.3,"y":15,"c":"g"},{"t":7,"x":1.8,"y":20,"c":"g"},{"t":7,"x":2.4,"y":24.5,"c":"g"},{"t":7,"x":3.2,"y":28.5,"c":"g"},{"t":7,"x":4.2,"y":32.2,"c":"g"},{"t":7,"x":5.5,"y":35.6,"c":"g"},{"t":7,"x":7,"y":38.7,"c":"g"},{"t":7,"x":8.8,"y":41.5,"c":"g"},{"t":7,"x":10.8,"y":44,"c":"g"},{"t":7,"x":13.1,"y":46.2,"c":"g"},{"t":7,"x":15.6,"y":48,"c":"g"},{"t":7,"x":18.4,"y":49.6,"c":"g"},{"t":7,"x":21.4,"y":50.9,"c":"g"},{"t":7,"x":24.6,"y":52,"c":"g"},{"t":7,"x":27.8,"y":52.8,"c":"g"},{"t":7,"x":31,"y":53.3,"c":"g"},{"t":7,"x":34.3,"y":53.5,"c":"k"},{"t":7,"x":36.3,"y":52.8,"c":"k"},{"t":7,"x":37.5,"y":51.7,"c":"r"},{"t":7,"x":38.3,"y":50,"c":"r"},{"t":7,"x":38.4,"y":47.8,"c":"r"},{"t":7,"x":37.8,"y":45.4,"c":"r"},{"t":7,"x":36.7,"y":42.6,"c":"r"},{"t":7,"x":35,"y":39.5,"c":"r"},{"t":7,"x":32.8,"y":36.3,"c":"r"},{"t":7,"x":30,"y":33,"c":"r"},{"t":7,"x":26.8,"y":29.6,"c":"r"},{"t":7,"x":23.2,"y":26.4,"c":"r"},{"t":7,"x":19.4,"y":23.4,"c":"r"},{"t":7,"x":15.4,"y":20.4,"c":"r"},{"t":7,"x":11.6,"y":17.3,"c":"r"},{"t":7,"x":8.4,"y":14,"c":"r"},{"t":7,"x":6.1,"y":10.6,"c":"r"},{"t":7,"x":4.5,"y":7.2,"c":"r"},{"t":7,"x":3.5,"y":3.9,"c":"r"},{"t":7,"x":2.8,"y":1,"c":"r"},
{"t":8,"x":0.4,"y":0,"c":"g"},{"t":8,"x":0.7,"y":5,"c":"g"},{"t":8,"x":1.1,"y":10,"c":"g"},{"t":8,"x":1.5,"y":14.5,"c":"g"},{"t":8,"x":2.1,"y":19,"c":"g"},{"t":8,"x":2.9,"y":23.2,"c":"g"},{"t":8,"x":4,"y":27,"c":"g"},{"t":8,"x":5.4,"y":30.5,"c":"g"},{"t":8,"x":7.1,"y":33.6,"c":"g"},{"t":8,"x":9.1,"y":36.4,"c":"g"},{"t":8,"x":11.3,"y":39,"c":"g"},{"t":8,"x":13.7,"y":41.3,"c":"g"},{"t":8,"x":16.3,"y":43.4,"c":"g"},{"t":8,"x":19.1,"y":45.2,"c":"g"},{"t":8,"x":22.1,"y":46.8,"c":"g"},{"t":8,"x":25.3,"y":48.1,"c":"g"},{"t":8,"x":28.6,"y":49.2,"c":"g"},{"t":8,"x":32,"y":50,"c":"g"},{"t":8,"x":35.3,"y":50.5,"c":"g"},{"t":8,"x":38.3,"y":50.8,"c":"g"},{"t":8,"x":41.2,"y":50.8,"c":"k"},{"t":8,"x":43.3,"y":50.5,"c":"k"},{"t":8,"x":45.2,"y":49.6,"c":"k"},{"t":8,"x":46.6,"y":48.3,"c":"k"},{"t":8,"x":47.4,"y":46.6,"c":"k"},{"t":8,"x":47.6,"y":44.8,"c":"r"},{"t":8,"x":47.1,"y":42.7,"c":"r"},{"t":8,"x":46,"y":40.4,"c":"r"},{"t":8,"x":44.3,"y":38,"c":"r"},{"t":8,"x":42,"y":35.5,"c":"r"},{"t":8,"x":39.2,"y":33,"c":"r"},{"t":8,"x":36,"y":30.4,"c":"r"},{"t":8,"x":32.4,"y":27.8,"c":"r"},{"t":8,"x":28.4,"y":25.4,"c":"r"},{"t":8,"x":24.2,"y":23,"c":"r"},{"t":8,"x":19.8,"y":20.8,"c":"r"},{"t":8,"x":15.6,"y":18.4,"c":"r"},{"t":8,"x":11.8,"y":15.8,"c":"r"},{"t":8,"x":8.6,"y":13,"c":"r"},{"t":8,"x":6.2,"y":10,"c":"r"},{"t":8,"x":4.6,"y":6.8,"c":"r"},{"t":8,"x":3.5,"y":3.5,"c":"r"},{"t":8,"x":2.9,"y":0.8,"c":"r"},
{"t":9,"x":0.2,"y":0,"c":"g"},{"t":9,"x":0.5,"y":4.5,"c":"g"},{"t":9,"x":0.9,"y":9,"c":"g"},{"t":9,"x":1.3,"y":13.5,"c":"g"},{"t":9,"x":1.9,"y":17.8,"c":"g"},{"t":9,"x":2.6,"y":21.8,"c":"g"},{"t":9,"x":3.6,"y":25.5,"c":"g"},{"t":9,"x":4.9,"y":28.9,"c":"g"},{"t":9,"x":6.5,"y":32,"c":"g"},{"t":9,"x":8.4,"y":34.8,"c":"g"},{"t":9,"x":10.6,"y":37.3,"c":"g"},{"t":9,"x":13,"y":39.5,"c":"g"},{"t":9,"x":15.6,"y":41.4,"c":"g"},{"t":9,"x":18.4,"y":43,"c":"g"},{"t":9,"x":21.4,"y":44.4,"c":"g"},{"t":9,"x":24.6,"y":45.5,"c":"g"},{"t":9,"x":27.8,"y":46.3,"c":"g"},{"t":9,"x":31,"y":46.8,"c":"g"},{"t":9,"x":34.2,"y":47.1,"c":"g"},{"t":9,"x":37.3,"y":47.2,"c":"k"},{"t":9,"x":39.5,"y":46.8,"c":"k"},{"t":9,"x":41.3,"y":46,"c":"k"},{"t":9,"x":42.6,"y":44.8,"c":"k"},{"t":9,"x":43.3,"y":43.2,"c":"k"},{"t":9,"x":43.4,"y":41.5,"c":"r"},{"t":9,"x":42.8,"y":39.5,"c":"r"},{"t":9,"x":41.6,"y":37.4,"c":"r"},{"t":9,"x":39.8,"y":35.2,"c":"r"},{"t":9,"x":37.5,"y":33,"c":"r"},{"t":9,"x":34.7,"y":30.8,"c":"r"},{"t":9,"x":31.5,"y":28.6,"c":"r"},{"t":9,"x":28,"y":26.4,"c":"r"},{"t":9,"x":24.2,"y":24.2,"c":"r"},{"t":9,"x":20.2,"y":22,"c":"r"},{"t":9,"x":16.2,"y":19.6,"c":"r"},{"t":9,"x":12.4,"y":17,"c":"r"},{"t":9,"x":9.2,"y":14.2,"c":"r"},{"t":9,"x":6.8,"y":11.2,"c":"r"},{"t":9,"x":5,"y":8,"c":"r"},{"t":9,"x":3.8,"y":4.8,"c":"r"},{"t":9,"x":3.1,"y":1.6,"c":"r"},
{"t":10,"x":0.5,"y":0,"c":"g"},{"t":10,"x":0.8,"y":4.5,"c":"g"},{"t":10,"x":1.1,"y":9,"c":"g"},{"t":10,"x":1.6,"y":13.5,"c":"g"},{"t":10,"x":2.2,"y":17.6,"c":"g"},{"t":10,"x":3,"y":21.5,"c":"g"},{"t":10,"x":4.1,"y":25,"c":"g"},{"t":10,"x":5.5,"y":28.2,"c":"g"},{"t":10,"x":7.2,"y":31.1,"c":"g"},{"t":10,"x":9.2,"y":33.7,"c":"g"},{"t":10,"x":11.5,"y":36,"c":"g"},{"t":10,"x":14,"y":38,"c":"g"},{"t":10,"x":16.7,"y":39.8,"c":"g"},{"t":10,"x":19.6,"y":41.3,"c":"g"},{"t":10,"x":22.7,"y":42.5,"c":"g"},{"t":10,"x":25.9,"y":43.4,"c":"g"},{"t":10,"x":29.2,"y":43.9,"c":"g"},{"t":10,"x":32.6,"y":44.2,"c":"k"},{"t":10,"x":35,"y":43.9,"c":"k"},{"t":10,"x":37.1,"y":43.2,"c":"k"},{"t":10,"x":38.7,"y":42,"c":"k"},{"t":10,"x":39.6,"y":40.4,"c":"k"},{"t":10,"x":39.9,"y":38.6,"c":"r"},{"t":10,"x":39.6,"y":36.6,"c":"r"},{"t":10,"x":38.7,"y":34.6,"c":"r"},{"t":10,"x":37.2,"y":32.5,"c":"r"},{"t":10,"x":35.2,"y":30.4,"c":"r"},{"t":10,"x":32.8,"y":28.4,"c":"r"},{"t":10,"x":29.9,"y":26.5,"c":"r"},{"t":10,"x":26.6,"y":24.6,"c":"r"},{"t":10,"x":23,"y":22.6,"c":"r"},{"t":10,"x":19.2,"y":20.5,"c":"r"},{"t":10,"x":15.4,"y":18.3,"c":"r"},{"t":10,"x":11.8,"y":15.9,"c":"r"},{"t":10,"x":8.8,"y":13.2,"c":"r"},{"t":10,"x":6.5,"y":10.2,"c":"r"},{"t":10,"x":4.8,"y":7,"c":"r"},{"t":10,"x":3.7,"y":3.8,"c":"r"},{"t":10,"x":3,"y":0.9,"c":"r"},
{"t":11,"x":0.2,"y":0,"c":"g"},{"t":11,"x":0.5,"y":4,"c":"g"},{"t":11,"x":0.8,"y":8,"c":"g"},{"t":11,"x":1.2,"y":12,"c":"g"},{"t":11,"x":1.7,"y":16,"c":"g"},{"t":11,"x":2.4,"y":19.8,"c":"g"},{"t":11,"x":3.3,"y":23.3,"c":"g"},{"t":11,"x":4.5,"y":26.5,"c":"g"},{"t":11,"x":6,"y":29.5,"c":"g"},{"t":11,"x":7.8,"y":32.2,"c":"g"},{"t":11,"x":9.9,"y":34.6,"c":"g"},{"t":11,"x":12.3,"y":36.6,"c":"g"},{"t":11,"x":14.9,"y":38.3,"c":"g"},{"t":11,"x":17.7,"y":39.6,"c":"g"},{"t":11,"x":20.7,"y":40.5,"c":"g"},{"t":11,"x":23.9,"y":41,"c":"g"},{"t":11,"x":27,"y":41.2,"c":"g"},{"t":11,"x":30.2,"y":41.2,"c":"k"},{"t":11,"x":32.6,"y":40.7,"c":"k"},{"t":11,"x":34.5,"y":39.8,"c":"k"},{"t":11,"x":35.9,"y":38.5,"c":"k"},{"t":11,"x":36.6,"y":36.9,"c":"k"},{"t":11,"x":36.7,"y":35,"c":"r"},{"t":11,"x":36.2,"y":33,"c":"r"},{"t":11,"x":35.1,"y":31,"c":"r"},{"t":11,"x":33.5,"y":29,"c":"r"},{"t":11,"x":31.4,"y":27.2,"c":"r"},{"t":11,"x":28.9,"y":25.5,"c":"r"},{"t":11,"x":26,"y":23.8,"c":"r"},{"t":11,"x":22.8,"y":22,"c":"r"},{"t":11,"x":19.4,"y":20.1,"c":"r"},{"t":11,"x":15.9,"y":18,"c":"r"},{"t":11,"x":12.5,"y":15.8,"c":"r"},{"t":11,"x":9.6,"y":13.3,"c":"r"},{"t":11,"x":7.2,"y":10.5,"c":"r"},{"t":11,"x":5.3,"y":7.5,"c":"r"},{"t":11,"x":4,"y":4.4,"c":"r"},{"t":11,"x":3.1,"y":1.4,"c":"r"},
{"t":12,"x":0.4,"y":0,"c":"g"},{"t":12,"x":0.7,"y":4,"c":"g"},{"t":12,"x":1,"y":8,"c":"g"},{"t":12,"x":1.4,"y":12,"c":"g"},{"t":12,"x":1.9,"y":15.8,"c":"g"},{"t":12,"x":2.6,"y":19.4,"c":"g"},{"t":12,"x":3.6,"y":22.7,"c":"g"},{"t":12,"x":4.9,"y":25.8,"c":"g"},{"t":12,"x":6.5,"y":28.6,"c":"g"},{"t":12,"x":8.4,"y":31.1,"c":"g"},{"t":12,"x":10.6,"y":33.2,"c":"g"},{"t":12,"x":13,"y":35,"c":"g"},{"t":12,"x":15.6,"y":36.4,"c":"g"},{"t":12,"x":18.4,"y":37.4,"c":"g"},{"t":12,"x":21.4,"y":38,"c":"g"},{"t":12,"x":24.4,"y":38.3,"c":"g"},{"t":12,"x":27.4,"y":38.3,"c":"k"},{"t":12,"x":29.8,"y":37.9,"c":"k"},{"t":12,"x":31.7,"y":37,"c":"k"},{"t":12,"x":33,"y":35.7,"c":"k"},{"t":12,"x":33.6,"y":34.1,"c":"k"},{"t":12,"x":33.7,"y":32.3,"c":"r"},{"t":12,"x":33.1,"y":30.4,"c":"r"},{"t":12,"x":31.9,"y":28.6,"c":"r"},{"t":12,"x":30.2,"y":26.9,"c":"r"},{"t":12,"x":28,"y":25.2,"c":"r"},{"t":12,"x":25.4,"y":23.6,"c":"r"},{"t":12,"x":22.4,"y":21.9,"c":"r"},{"t":12,"x":19.2,"y":20.1,"c":"r"},{"t":12,"x":15.9,"y":18.2,"c":"r"},{"t":12,"x":12.7,"y":16,"c":"r"},{"t":12,"x":9.8,"y":13.6,"c":"r"},{"t":12,"x":7.4,"y":10.9,"c":"r"},{"t":12,"x":5.4,"y":7.9,"c":"r"},{"t":12,"x":4,"y":4.8,"c":"r"},{"t":12,"x":3.1,"y":1.8,"c":"r"},{"t":12,"x":2.6,"y":0.3,"c":"r"},
{"t":13,"x":0.3,"y":0,"c":"g"},{"t":13,"x":0.6,"y":4,"c":"g"},{"t":13,"x":0.9,"y":8,"c":"g"},{"t":13,"x":1.3,"y":11.8,"c":"g"},{"t":13,"x":1.8,"y":15.4,"c":"g"},{"t":13,"x":2.5,"y":18.8,"c":"g"},{"t":13,"x":3.4,"y":21.9,"c":"g"},{"t":13,"x":4.6,"y":24.8,"c":"g"},{"t":13,"x":6.1,"y":27.4,"c":"g"},{"t":13,"x":7.9,"y":29.7,"c":"g"},{"t":13,"x":10,"y":31.7,"c":"g"},{"t":13,"x":12.3,"y":33.2,"c":"g"},{"t":13,"x":14.8,"y":34.3,"c":"g"},{"t":13,"x":17.5,"y":35,"c":"g"},{"t":13,"x":20.3,"y":35.3,"c":"g"},{"t":13,"x":23.3,"y":35.3,"c":"k"},{"t":13,"x":25.6,"y":34.9,"c":"k"},{"t":13,"x":27.5,"y":34,"c":"k"},{"t":13,"x":28.8,"y":32.6,"c":"k"},{"t":13,"x":29.4,"y":31,"c":"k"},{"t":13,"x":29.5,"y":29.3,"c":"r"},{"t":13,"x":29,"y":27.6,"c":"r"},{"t":13,"x":27.8,"y":26,"c":"r"},{"t":13,"x":26.1,"y":24.5,"c":"r"},{"t":13,"x":24,"y":23,"c":"r"},{"t":13,"x":21.6,"y":21.5,"c":"r"},{"t":13,"x":19,"y":19.9,"c":"r"},{"t":13,"x":16.2,"y":18.2,"c":"r"},{"t":13,"x":13.4,"y":16.3,"c":"r"},{"t":13,"x":10.6,"y":14.2,"c":"r"},{"t":13,"x":8.2,"y":11.8,"c":"r"},{"t":13,"x":6.2,"y":9.1,"c":"r"},{"t":13,"x":4.6,"y":6.2,"c":"r"},{"t":13,"x":3.5,"y":3.4,"c":"r"},{"t":13,"x":2.8,"y":0.9,"c":"r"},
{"t":14,"x":0.1,"y":0,"c":"g"},{"t":14,"x":0.4,"y":3.8,"c":"g"},{"t":14,"x":0.7,"y":7.6,"c":"g"},{"t":14,"x":1.1,"y":11.3,"c":"g"},{"t":14,"x":1.6,"y":14.8,"c":"g"},{"t":14,"x":2.3,"y":18,"c":"g"},{"t":14,"x":3.2,"y":21,"c":"g"},{"t":14,"x":4.4,"y":23.8,"c":"g"},{"t":14,"x":5.9,"y":26.3,"c":"g"},{"t":14,"x":7.7,"y":28.4,"c":"g"},{"t":14,"x":9.8,"y":30.1,"c":"g"},{"t":14,"x":12.1,"y":31.3,"c":"g"},{"t":14,"x":14.6,"y":32,"c":"g"},{"t":14,"x":17.2,"y":32.3,"c":"g"},{"t":14,"x":20,"y":32.3,"c":"k"},{"t":14,"x":22.3,"y":31.9,"c":"k"},{"t":14,"x":24.2,"y":31,"c":"k"},{"t":14,"x":25.4,"y":29.7,"c":"k"},{"t":14,"x":25.9,"y":28.2,"c":"k"},{"t":14,"x":25.9,"y":26.6,"c":"r"},{"t":14,"x":25.3,"y":25.1,"c":"r"},{"t":14,"x":24.2,"y":23.7,"c":"r"},{"t":14,"x":22.6,"y":22.3,"c":"r"},{"t":14,"x":20.7,"y":20.9,"c":"r"},{"t":14,"x":18.5,"y":19.5,"c":"r"},{"t":14,"x":16.1,"y":18,"c":"r"},{"t":14,"x":13.6,"y":16.4,"c":"r"},{"t":14,"x":11.1,"y":14.6,"c":"r"},{"t":14,"x":8.9,"y":12.6,"c":"r"},{"t":14,"x":6.9,"y":10.3,"c":"r"},{"t":14,"x":5.3,"y":7.8,"c":"r"},{"t":14,"x":4.1,"y":5,"c":"r"},{"t":14,"x":3.2,"y":2.2,"c":"r"},{"t":14,"x":2.6,"y":0.4,"c":"r"},
{"t":15,"x":0.5,"y":0,"c":"g"},{"t":15,"x":0.7,"y":3.5,"c":"g"},{"t":15,"x":1,"y":7,"c":"g"},{"t":15,"x":1.3,"y":10.5,"c":"g"},{"t":15,"x":1.8,"y":13.8,"c":"g"},{"t":15,"x":2.5,"y":16.8,"c":"g"},{"t":15,"x":3.4,"y":19.6,"c":"g"},{"t":15,"x":4.6,"y":22.2,"c":"g"},{"t":15,"x":6.1,"y":24.4,"c":"g"},{"t":15,"x":7.9,"y":26.3,"c":"g"},{"t":15,"x":10,"y":27.7,"c":"g"},{"t":15,"x":12.3,"y":28.6,"c":"g"},{"t":15,"x":14.7,"y":29,"c":"g"},{"t":15,"x":17.2,"y":29.1,"c":"k"},{"t":15,"x":19.3,"y":28.6,"c":"k"},{"t":15,"x":20.9,"y":27.7,"c":"k"},{"t":15,"x":21.9,"y":26.4,"c":"k"},{"t":15,"x":22.3,"y":24.9,"c":"k"},{"t":15,"x":22.2,"y":23.4,"c":"r"},{"t":15,"x":21.4,"y":22.1,"c":"r"},{"t":15,"x":20.1,"y":20.8,"c":"r"},{"t":15,"x":18.5,"y":19.6,"c":"r"},{"t":15,"x":16.6,"y":18.4,"c":"r"},{"t":15,"x":14.6,"y":17.1,"c":"r"},{"t":15,"x":12.5,"y":15.7,"c":"r"},{"t":15,"x":10.4,"y":14.1,"c":"r"},{"t":15,"x":8.5,"y":12.3,"c":"r"},{"t":15,"x":6.8,"y":10.2,"c":"r"},{"t":15,"x":5.4,"y":7.9,"c":"r"},{"t":15,"x":4.3,"y":5.4,"c":"r"},{"t":15,"x":3.5,"y":2.9,"c":"r"},{"t":15,"x":3,"y":0.7,"c":"r"},
{"t":16,"x":0.2,"y":0,"c":"g"},{"t":16,"x":0.5,"y":3.3,"c":"g"},{"t":16,"x":0.8,"y":6.6,"c":"g"},{"t":16,"x":1.1,"y":9.9,"c":"g"},{"t":16,"x":1.6,"y":13,"c":"g"},{"t":16,"x":2.2,"y":15.8,"c":"g"},{"t":16,"x":3.1,"y":18.4,"c":"g"},{"t":16,"x":4.2,"y":20.7,"c":"g"},{"t":16,"x":5.6,"y":22.7,"c":"g"},{"t":16,"x":7.3,"y":24.3,"c":"g"},{"t":16,"x":9.3,"y":25.4,"c":"g"},{"t":16,"x":11.5,"y":26,"c":"g"},{"t":16,"x":13.9,"y":26.2,"c":"k"},{"t":16,"x":15.8,"y":25.7,"c":"k"},{"t":16,"x":17.3,"y":24.8,"c":"k"},{"t":16,"x":18.2,"y":23.5,"c":"k"},{"t":16,"x":18.5,"y":22,"c":"r"},{"t":16,"x":18.1,"y":20.6,"c":"r"},{"t":16,"x":17.1,"y":19.3,"c":"r"},{"t":16,"x":15.7,"y":18.1,"c":"r"},{"t":16,"x":14.1,"y":16.9,"c":"r"},{"t":16,"x":12.3,"y":15.6,"c":"r"},{"t":16,"x":10.5,"y":14.2,"c":"r"},{"t":16,"x":8.8,"y":12.7,"c":"r"},{"t":16,"x":7.2,"y":11,"c":"r"},{"t":16,"x":5.8,"y":9,"c":"r"},{"t":16,"x":4.7,"y":6.9,"c":"r"},{"t":16,"x":3.8,"y":4.6,"c":"r"},{"t":16,"x":3.2,"y":2.3,"c":"r"},{"t":16,"x":2.8,"y":0.5,"c":"r"},
{"t":17,"x":0.4,"y":0,"c":"g"},{"t":17,"x":0.6,"y":3,"c":"g"},{"t":17,"x":0.9,"y":6,"c":"g"},{"t":17,"x":1.2,"y":9,"c":"g"},{"t":17,"x":1.6,"y":11.9,"c":"g"},{"t":17,"x":2.2,"y":14.6,"c":"g"},{"t":17,"x":3,"y":17,"c":"g"},{"t":17,"x":4.1,"y":19.1,"c":"g"},{"t":17,"x":5.5,"y":20.9,"c":"g"},{"t":17,"x":7.2,"y":22.2,"c":"g"},{"t":17,"x":9.2,"y":23,"c":"g"},{"t":17,"x":11.3,"y":23.2,"c":"k"},{"t":17,"x":13,"y":22.8,"c":"k"},{"t":17,"x":14.4,"y":21.9,"c":"k"},{"t":17,"x":15.2,"y":20.7,"c":"k"},{"t":17,"x":15.5,"y":19.3,"c":"r"},{"t":17,"x":15.1,"y":18,"c":"r"},{"t":17,"x":14.1,"y":16.9,"c":"r"},{"t":17,"x":12.8,"y":15.8,"c":"r"},{"t":17,"x":11.3,"y":14.7,"c":"r"},{"t":17,"x":9.8,"y":13.5,"c":"r"},{"t":17,"x":8.4,"y":12.2,"c":"r"},{"t":17,"x":7.1,"y":10.7,"c":"r"},{"t":17,"x":6,"y":9.1,"c":"r"},{"t":17,"x":5.1,"y":7.4,"c":"r"},{"t":17,"x":4.3,"y":5.5,"c":"r"},{"t":17,"x":3.7,"y":3.6,"c":"r"},{"t":17,"x":3.2,"y":1.7,"c":"r"},{"t":17,"x":2.8,"y":0.3,"c":"r"},
{"t":18,"x":0.2,"y":0,"c":"g"},{"t":18,"x":0.4,"y":2.8,"c":"g"},{"t":18,"x":0.7,"y":5.6,"c":"g"},{"t":18,"x":1,"y":8.4,"c":"g"},{"t":18,"x":1.4,"y":11,"c":"g"},{"t":18,"x":2,"y":13.4,"c":"g"},{"t":18,"x":2.8,"y":15.5,"c":"g"},{"t":18,"x":3.8,"y":17.4,"c":"g"},{"t":18,"x":5.1,"y":18.9,"c":"g"},{"t":18,"x":6.6,"y":19.8,"c":"g"},{"t":18,"x":8.3,"y":20.2,"c":"k"},{"t":18,"x":9.9,"y":19.9,"c":"k"},{"t":18,"x":11.1,"y":19.1,"c":"k"},{"t":18,"x":11.9,"y":18,"c":"k"},{"t":18,"x":12.1,"y":16.7,"c":"r"},{"t":18,"x":11.5,"y":15.6,"c":"r"},{"t":18,"x":10.5,"y":14.6,"c":"r"},{"t":18,"x":9.3,"y":13.6,"c":"r"},{"t":18,"x":8.2,"y":12.6,"c":"r"},{"t":18,"x":7.2,"y":11.5,"c":"r"},{"t":18,"x":6.3,"y":10.3,"c":"r"},{"t":18,"x":5.5,"y":9,"c":"r"},{"t":18,"x":4.8,"y":7.6,"c":"r"},{"t":18,"x":4.2,"y":6.1,"c":"r"},{"t":18,"x":3.7,"y":4.5,"c":"r"},{"t":18,"x":3.3,"y":2.9,"c":"r"},{"t":18,"x":3,"y":1.3,"c":"r"},
{"t":19,"x":0.3,"y":0,"c":"g"},{"t":19,"x":0.5,"y":2.6,"c":"g"},{"t":19,"x":0.8,"y":5.2,"c":"g"},{"t":19,"x":1.1,"y":7.8,"c":"g"},{"t":19,"x":1.5,"y":10.2,"c":"g"},{"t":19,"x":2.1,"y":12.4,"c":"g"},{"t":19,"x":2.9,"y":14.3,"c":"g"},{"t":19,"x":3.9,"y":15.8,"c":"g"},{"t":19,"x":5.1,"y":16.8,"c":"g"},{"t":19,"x":6.5,"y":17.2,"c":"k"},{"t":19,"x":7.6,"y":16.8,"c":"k"},{"t":19,"x":8.4,"y":15.8,"c":"k"},{"t":19,"x":8.7,"y":14.6,"c":"r"},{"t":19,"x":8.4,"y":13.4,"c":"r"},{"t":19,"x":7.8,"y":12.3,"c":"r"},{"t":19,"x":7.1,"y":11.2,"c":"r"},{"t":19,"x":6.4,"y":10,"c":"r"},{"t":19,"x":5.8,"y":8.7,"c":"r"},{"t":19,"x":5.2,"y":7.3,"c":"r"},{"t":19,"x":4.6,"y":5.8,"c":"r"},{"t":19,"x":4.1,"y":4.3,"c":"r"},{"t":19,"x":3.7,"y":2.8,"c":"r"},{"t":19,"x":3.3,"y":1.4,"c":"r"},{"t":19,"x":3,"y":0.3,"c":"r"},
{"t":20,"x":0.1,"y":0,"c":"g"},{"t":20,"x":0.3,"y":2.2,"c":"g"},{"t":20,"x":0.6,"y":4.4,"c":"g"},{"t":20,"x":0.9,"y":6.6,"c":"g"},{"t":20,"x":1.3,"y":8.6,"c":"g"},{"t":20,"x":1.8,"y":10.5,"c":"g"},{"t":20,"x":2.5,"y":12.1,"c":"g"},{"t":20,"x":3.4,"y":13.3,"c":"g"},{"t":20,"x":4.4,"y":14,"c":"g"},{"t":20,"x":5.5,"y":14.2,"c":"k"},{"t":20,"x":6.4,"y":13.7,"c":"k"},{"t":20,"x":6.9,"y":12.8,"c":"k"},{"t":20,"x":7,"y":11.7,"c":"r"},{"t":20,"x":6.7,"y":10.7,"c":"r"},{"t":20,"x":6.2,"y":9.7,"c":"r"},{"t":20,"x":5.7,"y":8.6,"c":"r"},{"t":20,"x":5.2,"y":7.5,"c":"r"},{"t":20,"x":4.7,"y":6.3,"c":"r"},{"t":20,"x":4.3,"y":5.1,"c":"r"},{"t":20,"x":3.9,"y":3.9,"c":"r"},{"t":20,"x":3.5,"y":2.6,"c":"r"},{"t":20,"x":3.2,"y":1.4,"c":"r"},{"t":20,"x":2.9,"y":0.3,"c":"r"},
{"t":21,"x":0.4,"y":0,"c":"g"},{"t":21,"x":0.6,"y":1.8,"c":"g"},{"t":21,"x":0.8,"y":3.6,"c":"g"},{"t":21,"x":1.1,"y":5.4,"c":"g"},{"t":21,"x":1.5,"y":7.1,"c":"g"},{"t":21,"x":2,"y":8.6,"c":"g"},{"t":21,"x":2.7,"y":9.8,"c":"g"},{"t":21,"x":3.5,"y":10.6,"c":"g"},{"t":21,"x":4.4,"y":10.9,"c":"k"},{"t":21,"x":5.1,"y":10.4,"c":"k"},{"t":21,"x":5.5,"y":9.6,"c":"k"},{"t":21,"x":5.6,"y":8.7,"c":"r"},{"t":21,"x":5.4,"y":7.8,"c":"r"},{"t":21,"x":5.1,"y":6.9,"c":"r"},{"t":21,"x":4.8,"y":6,"c":"r"},{"t":21,"x":4.5,"y":5,"c":"r"},{"t":21,"x":4.1,"y":4,"c":"r"},{"t":21,"x":3.8,"y":3,"c":"r"},{"t":21,"x":3.5,"y":2,"c":"r"},{"t":21,"x":3.2,"y":1,"c":"r"},{"t":21,"x":2.9,"y":0.2,"c":"r"},
{"t":22,"x":0.2,"y":0,"c":"g"},{"t":22,"x":0.4,"y":1.5,"c":"g"},{"t":22,"x":0.7,"y":3,"c":"g"},{"t":22,"x":1,"y":4.4,"c":"g"},{"t":22,"x":1.4,"y":5.7,"c":"g"},{"t":22,"x":1.9,"y":6.8,"c":"g"},{"t":22,"x":2.5,"y":7.6,"c":"g"},{"t":22,"x":3.2,"y":7.9,"c":"k"},{"t":22,"x":3.8,"y":7.5,"c":"k"},{"t":22,"x":4.2,"y":6.8,"c":"k"},{"t":22,"x":4.4,"y":6,"c":"r"},{"t":22,"x":4.3,"y":5.2,"c":"r"},{"t":22,"x":4.1,"y":4.4,"c":"r"},{"t":22,"x":3.8,"y":3.6,"c":"r"},{"t":22,"x":3.5,"y":2.7,"c":"r"},{"t":22,"x":3.2,"y":1.8,"c":"r"},{"t":22,"x":2.9,"y":0.9,"c":"r"},{"t":22,"x":2.6,"y":0.2,"c":"r"},
{"t":23,"x":0.3,"y":0,"c":"g"},{"t":23,"x":0.6,"y":3,"c":"g"},{"t":23,"x":0.9,"y":6,"c":"g"},{"t":23,"x":1.3,"y":9,"c":"g"},{"t":23,"x":1.8,"y":12,"c":"g"},{"t":23,"x":2.5,"y":14.8,"c":"g"},{"t":23,"x":3.4,"y":17.2,"c":"g"},{"t":23,"x":4.6,"y":19.2,"c":"g"},{"t":23,"x":6,"y":20.5,"c":"g"},{"t":23,"x":7.4,"y":20,"c":"r"},{"t":23,"x":8.6,"y":18.5,"c":"r"},{"t":23,"x":10,"y":17,"c":"r"},{"t":23,"x":11.6,"y":15.6,"c":"r"},{"t":23,"x":12.9,"y":14.3,"c":"r"},{"t":23,"x":13.7,"y":13.5,"c":"k"},{"t":23,"x":16.3,"y":11.3,"c":"r"},{"t":23,"x":15.7,"y":8.6,"c":"r"},{"t":23,"x":8.8,"y":6.2,"c":"r"},{"t":23,"x":3.9,"y":4.6,"c":"r"},{"t":23,"x":2.8,"y":1.5,"c":"r"},
{"t":24,"x":0.3,"y":0,"c":"g"},{"t":24,"x":0.6,"y":4.5,"c":"g"},{"t":24,"x":1,"y":9,"c":"g"},{"t":24,"x":1.5,"y":13.5,"c":"g"},{"t":24,"x":2.1,"y":18,"c":"g"},{"t":24,"x":3,"y":22,"c":"g"},{"t":24,"x":4.2,"y":25.8,"c":"g"},{"t":24,"x":5.7,"y":29.2,"c":"g"},{"t":24,"x":7.5,"y":32.3,"c":"g"},{"t":24,"x":9.6,"y":35,"c":"g"},{"t":24,"x":12,"y":37.4,"c":"g"},{"t":24,"x":14.6,"y":39.4,"c":"g"},{"t":24,"x":17.4,"y":41,"c":"g"},{"t":24,"x":20.4,"y":42.3,"c":"g"},{"t":24,"x":23.6,"y":43.3,"c":"g"},{"t":24,"x":26.9,"y":44,"c":"g"},{"t":24,"x":30.2,"y":44.5,"c":"g"},{"t":24,"x":33.5,"y":44.9,"c":"g"},{"t":24,"x":36.6,"y":45.1,"c":"k"},{"t":24,"x":39.4,"y":44.7,"c":"k"},{"t":24,"x":41.8,"y":43.8,"c":"k"},{"t":24,"x":43.6,"y":42.4,"c":"k"},{"t":24,"x":45,"y":40.6,"c":"r"},{"t":24,"x":46,"y":38.4,"c":"r"},{"t":24,"x":46.4,"y":36,"c":"r"},{"t":24,"x":46.1,"y":33.6,"c":"r"},{"t":24,"x":45.2,"y":31.4,"c":"r"},{"t":24,"x":42.5,"y":30,"c":"r"},{"t":24,"x":39.1,"y":29.4,"c":"r"},{"t":24,"x":34,"y":27.6,"c":"r"},{"t":24,"x":27.4,"y":24.2,"c":"r"},{"t":24,"x":21.8,"y":21.6,"c":"r"},{"t":24,"x":17.7,"y":19.4,"c":"r"},{"t":24,"x":13.7,"y":17,"c":"r"},{"t":24,"x":10.4,"y":14.6,"c":"r"},{"t":24,"x":7.6,"y":12,"c":"r"},{"t":24,"x":5.6,"y":9,"c":"r"},{"t":24,"x":4.3,"y":5.7,"c":"r"},{"t":24,"x":3.3,"y":2.4,"c":"r"},{"t":24,"x":2.7,"y":0.4,"c":"r"},
{"t":25,"x":0.5,"y":0,"c":"g"},{"t":25,"x":0.8,"y":4,"c":"g"},{"t":25,"x":1.2,"y":8,"c":"g"},{"t":25,"x":1.7,"y":12,"c":"g"},{"t":25,"x":2.3,"y":16,"c":"g"},{"t":25,"x":3.2,"y":19.8,"c":"g"},{"t":25,"x":4.3,"y":23.3,"c":"g"},{"t":25,"x":5.7,"y":26.4,"c":"g"},{"t":25,"x":7.4,"y":29.2,"c":"g"},{"t":25,"x":9.4,"y":31.7,"c":"g"},{"t":25,"x":11.7,"y":33.8,"c":"g"},{"t":25,"x":14.2,"y":35.5,"c":"g"},{"t":25,"x":16.9,"y":36.9,"c":"g"},{"t":25,"x":19.8,"y":37.9,"c":"g"},{"t":25,"x":22.8,"y":38.6,"c":"g"},{"t":25,"x":25.8,"y":39,"c":"k"},{"t":25,"x":28.4,"y":38.9,"c":"k"},{"t":25,"x":30.6,"y":38.3,"c":"k"},{"t":25,"x":32.3,"y":37.2,"c":"k"},{"t":25,"x":33.7,"y":35.8,"c":"r"},{"t":25,"x":35.5,"y":34.2,"c":"r"},{"t":25,"x":37.8,"y":33,"c":"r"},{"t":25,"x":40.3,"y":31.1,"c":"r"},{"t":25,"x":41.5,"y":29,"c":"r"},{"t":25,"x":38,"y":27.2,"c":"r"},{"t":25,"x":33,"y":25.5,"c":"r"},{"t":25,"x":28,"y":23.8,"c":"r"},{"t":25,"x":23,"y":22,"c":"r"},{"t":25,"x":18.5,"y":20,"c":"r"},{"t":25,"x":14.5,"y":17.6,"c":"r"},{"t":25,"x":11,"y":15,"c":"r"},{"t":25,"x":8.2,"y":12.3,"c":"r"},{"t":25,"x":6,"y":9.4,"c":"r"},{"t":25,"x":4.4,"y":6.3,"c":"r"},{"t":25,"x":3.4,"y":3.2,"c":"r"},{"t":25,"x":2.8,"y":0.8,"c":"r"},
{"t":26,"x":0.6,"y":0,"c":"g"},{"t":26,"x":1.2,"y":4,"c":"g"},{"t":26,"x":1.9,"y":8,"c":"g"},{"t":26,"x":2.7,"y":12,"c":"g"},{"t":26,"x":3.6,"y":16,"c":"g"},{"t":26,"x":4.6,"y":19.5,"c":"g"},{"t":26,"x":5.7,"y":22.5,"c":"g"},{"t":26,"x":6.9,"y":25.3,"c":"g"},{"t":26,"x":8.2,"y":28,"c":"g"},{"t":26,"x":9.6,"y":30.5,"c":"g"},{"t":26,"x":11.1,"y":32.8,"c":"g"},{"t":26,"x":12.7,"y":35,"c":"g"},{"t":26,"x":14.4,"y":37,"c":"g"},{"t":26,"x":16.2,"y":38.8,"c":"g"},{"t":26,"x":18.1,"y":40.4,"c":"g"},{"t":26,"x":20.1,"y":41.8,"c":"g"},{"t":26,"x":22.2,"y":43,"c":"g"},{"t":26,"x":24.4,"y":44,"c":"g"},{"t":26,"x":26.7,"y":44.8,"c":"g"},{"t":26,"x":29,"y":45.3,"c":"g"},{"t":26,"x":31.5,"y":45.5,"c":"k"},{"t":26,"x":33.8,"y":45.2,"c":"k"},{"t":26,"x":35.8,"y":44.3,"c":"k"},{"t":26,"x":37.2,"y":43,"c":"k"},{"t":26,"x":38,"y":41.4,"c":"r"},{"t":26,"x":38.2,"y":39.6,"c":"r"},{"t":26,"x":37.7,"y":37.6,"c":"r"},{"t":26,"x":36.6,"y":35.6,"c":"r"},{"t":26,"x":35,"y":33.6,"c":"r"},{"t":26,"x":33,"y":31.6,"c":"r"},{"t":26,"x":30.6,"y":29.7,"c":"r"},{"t":26,"x":27.9,"y":27.8,"c":"r"},{"t":26,"x":25,"y":26,"c":"r"},{"t":26,"x":22,"y":24.2,"c":"r"},{"t":26,"x":19,"y":22.2,"c":"r"},{"t":26,"x":16,"y":20.2,"c":"r"},{"t":26,"x":13.2,"y":18,"c":"r"},{"t":26,"x":10.7,"y":15.6,"c":"r"},{"t":26,"x":8.6,"y":13,"c":"r"},{"t":26,"x":6.8,"y":10.3,"c":"r"},{"t":26,"x":5.3,"y":7.5,"c":"r"},{"t":26,"x":4.1,"y":4.7,"c":"r"},{"t":26,"x":3.2,"y":2,"c":"r"},
{"t":27,"x":0.5,"y":0,"c":"g"},{"t":27,"x":1.1,"y":3.5,"c":"g"},{"t":27,"x":1.8,"y":7,"c":"g"},{"t":27,"x":2.5,"y":10.5,"c":"g"},{"t":27,"x":3.2,"y":14,"c":"g"},{"t":27,"x":3.9,"y":17.5,"c":"g"},{"t":27,"x":4.7,"y":21,"c":"g"},{"t":27,"x":5.6,"y":24.3,"c":"g"},{"t":27,"x":6.7,"y":27.4,"c":"g"},{"t":27,"x":8,"y":30.3,"c":"g"},{"t":27,"x":9.5,"y":33,"c":"g"},{"t":27,"x":11.2,"y":35.5,"c":"g"},{"t":27,"x":13.1,"y":37.8,"c":"g"},{"t":27,"x":15.2,"y":39.8,"c":"g"},{"t":27,"x":17.4,"y":41.6,"c":"g"},{"t":27,"x":19.8,"y":43.2,"c":"g"},{"t":27,"x":22.3,"y":44.5,"c":"g"},{"t":27,"x":24.9,"y":45.6,"c":"g"},{"t":27,"x":27.6,"y":46.4,"c":"g"},{"t":27,"x":30.4,"y":47,"c":"g"},{"t":27,"x":33.2,"y":47.4,"c":"g"},{"t":27,"x":36,"y":47.5,"c":"k"},{"t":27,"x":38.5,"y":47.1,"c":"k"},{"t":27,"x":40.6,"y":46.2,"c":"k"},{"t":27,"x":42,"y":44.8,"c":"k"},{"t":27,"x":42.8,"y":43,"c":"r"},{"t":27,"x":42.9,"y":41,"c":"r"},{"t":27,"x":42.4,"y":38.9,"c":"r"},{"t":27,"x":41.3,"y":36.8,"c":"r"},{"t":27,"x":39.8,"y":34.7,"c":"r"},{"t":27,"x":37.8,"y":32.7,"c":"r"},{"t":27,"x":35.5,"y":30.8,"c":"r"},{"t":27,"x":32.8,"y":29,"c":"r"},{"t":27,"x":29.9,"y":27.3,"c":"r"},{"t":27,"x":26.8,"y":25.6,"c":"r"},{"t":27,"x":23.5,"y":23.9,"c":"r"},{"t":27,"x":20.2,"y":22.1,"c":"r"},{"t":27,"x":17,"y":20.1,"c":"r"},{"t":27,"x":14,"y":18,"c":"r"},{"t":27,"x":11.3,"y":15.7,"c":"r"},{"t":27,"x":8.9,"y":13.2,"c":"r"},{"t":27,"x":6.9,"y":10.5,"c":"r"},{"t":27,"x":5.3,"y":7.6,"c":"r"},{"t":27,"x":4.1,"y":4.7,"c":"r"},{"t":27,"x":3.3,"y":2,"c":"r"},
{"t":28,"x":0.4,"y":0,"c":"g"},{"t":28,"x":1,"y":3,"c":"g"},{"t":28,"x":1.7,"y":6,"c":"g"},{"t":28,"x":2.5,"y":9,"c":"g"},{"t":28,"x":3.4,"y":11.8,"c":"g"},{"t":28,"x":4.4,"y":14.4,"c":"g"},{"t":28,"x":5.5,"y":16.8,"c":"g"},{"t":28,"x":6.7,"y":19,"c":"g"},{"t":28,"x":8,"y":21,"c":"g"},{"t":28,"x":9.4,"y":22.7,"c":"g"},{"t":28,"x":10.9,"y":24.1,"c":"g"},{"t":28,"x":12.5,"y":25.2,"c":"g"},{"t":28,"x":14.2,"y":26,"c":"g"},{"t":28,"x":16,"y":26.4,"c":"k"},{"t":28,"x":17.6,"y":26.2,"c":"k"},{"t":28,"x":18.9,"y":25.5,"c":"k"},{"t":28,"x":19.7,"y":24.4,"c":"r"},{"t":28,"x":20,"y":23.1,"c":"r"},{"t":28,"x":19.7,"y":21.8,"c":"r"},{"t":28,"x":18.9,"y":20.6,"c":"r"},{"t":28,"x":17.7,"y":19.5,"c":"r"},{"t":28,"x":16.3,"y":18.4,"c":"r"},{"t":28,"x":14.7,"y":17.3,"c":"r"},{"t":28,"x":13.1,"y":16.1,"c":"r"},{"t":28,"x":11.5,"y":14.8,"c":"r"},{"t":28,"x":10,"y":13.4,"c":"r"},{"t":28,"x":8.6,"y":11.8,"c":"r"},{"t":28,"x":7.3,"y":10,"c":"r"},{"t":28,"x":6.1,"y":8.1,"c":"r"},{"t":28,"x":5.1,"y":6.1,"c":"r"},{"t":28,"x":4.2,"y":4,"c":"r"},{"t":28,"x":3.5,"y":2,"c":"r"},{"t":28,"x":3,"y":0.4,"c":"r"},
{"t":29,"x":0.2,"y":0,"c":"g"},{"t":29,"x":0.6,"y":3.5,"c":"g"},{"t":29,"x":1.1,"y":7,"c":"g"},{"t":29,"x":1.7,"y":10.5,"c":"g"},{"t":29,"x":2.4,"y":14,"c":"g"},{"t":29,"x":3.2,"y":17.3,"c":"g"},{"t":29,"x":4.1,"y":20.4,"c":"g"},{"t":29,"x":5.2,"y":23.3,"c":"g"},{"t":29,"x":6.5,"y":25.9,"c":"g"},{"t":29,"x":8,"y":28.2,"c":"g"},{"t":29,"x":9.7,"y":30.1,"c":"g"},{"t":29,"x":11.6,"y":31.6,"c":"g"},{"t":29,"x":13.7,"y":32.6,"c":"g"},{"t":29,"x":15.9,"y":33.2,"c":"g"},{"t":29,"x":18.2,"y":33.4,"c":"k"},{"t":29,"x":20.3,"y":33,"c":"k"},{"t":29,"x":22,"y":32.1,"c":"k"},{"t":29,"x":23.1,"y":30.8,"c":"k"},{"t":29,"x":23.6,"y":29.3,"c":"r"},{"t":29,"x":23.5,"y":27.7,"c":"r"},{"t":29,"x":22.9,"y":26.2,"c":"r"},{"t":29,"x":21.8,"y":24.8,"c":"r"},{"t":29,"x":20.4,"y":23.4,"c":"r"},{"t":29,"x":18.8,"y":22,"c":"r"},{"t":29,"x":17,"y":20.6,"c":"r"},{"t":29,"x":15.1,"y":19.2,"c":"r"},{"t":29,"x":13.2,"y":17.7,"c":"r"},{"t":29,"x":11.4,"y":16,"c":"r"},{"t":29,"x":9.7,"y":14.2,"c":"r"},{"t":29,"x":8.1,"y":12.2,"c":"r"},{"t":29,"x":6.7,"y":10,"c":"r"},{"t":29,"x":5.5,"y":7.7,"c":"r"},{"t":29,"x":4.5,"y":5.3,"c":"r"},{"t":29,"x":3.7,"y":2.9,"c":"r"},{"t":29,"x":3.1,"y":0.7,"c":"r"},
{"t":30,"x":0.8,"y":0,"c":"g"},{"t":30,"x":1.5,"y":4,"c":"g"},{"t":30,"x":2.3,"y":8,"c":"g"},{"t":30,"x":3.2,"y":12,"c":"g"},{"t":30,"x":4.1,"y":16,"c":"g"},{"t":30,"x":5.1,"y":20,"c":"g"},{"t":30,"x":6.2,"y":23.8,"c":"g"},{"t":30,"x":7.4,"y":27.4,"c":"g"},{"t":30,"x":8.7,"y":30.8,"c":"g"},{"t":30,"x":10.1,"y":34,"c":"g"},{"t":30,"x":11.7,"y":37,"c":"g"},{"t":30,"x":13.4,"y":39.8,"c":"g"},{"t":30,"x":15.3,"y":42.3,"c":"g"},{"t":30,"x":17.4,"y":44.6,"c":"g"},{"t":30,"x":19.7,"y":46.6,"c":"g"},{"t":30,"x":22.2,"y":48.3,"c":"g"},{"t":30,"x":24.9,"y":49.7,"c":"g"},{"t":30,"x":27.8,"y":50.8,"c":"g"},{"t":30,"x":30.8,"y":51.6,"c":"g"},{"t":30,"x":33.9,"y":52.1,"c":"g"},{"t":30,"x":37,"y":52.4,"c":"g"},{"t":30,"x":40,"y":52.4,"c":"k"},{"t":30,"x":42.6,"y":52,"c":"k"},{"t":30,"x":44.7,"y":51,"c":"k"},{"t":30,"x":46.1,"y":49.6,"c":"k"},{"t":30,"x":46.8,"y":47.8,"c":"r"},{"t":30,"x":46.8,"y":45.8,"c":"r"},{"t":30,"x":46.1,"y":43.7,"c":"r"},{"t":30,"x":44.8,"y":41.5,"c":"r"},{"t":30,"x":43,"y":39.3,"c":"r"},{"t":30,"x":40.7,"y":37.1,"c":"r"},{"t":30,"x":38,"y":35,"c":"r"},{"t":30,"x":35,"y":32.9,"c":"r"},{"t":30,"x":31.8,"y":30.9,"c":"r"},{"t":30,"x":28.4,"y":28.9,"c":"r"},{"t":30,"x":25,"y":27,"c":"r"},{"t":30,"x":21.6,"y":25,"c":"r"},{"t":30,"x":18.4,"y":23,"c":"r"},{"t":30,"x":15.4,"y":20.8,"c":"r"},{"t":30,"x":12.7,"y":18.5,"c":"r"},{"t":30,"x":10.3,"y":16,"c":"r"},{"t":30,"x":8.3,"y":13.4,"c":"r"},{"t":30,"x":6.6,"y":10.7,"c":"r"},{"t":30,"x":5.2,"y":7.9,"c":"r"},{"t":30,"x":4.1,"y":5,"c":"r"},{"t":30,"x":3.3,"y":2.2,"c":"r"},
{"t":31,"x":0.6,"y":0,"c":"g"},{"t":31,"x":1.4,"y":3.5,"c":"g"},{"t":31,"x":2.3,"y":7,"c":"g"},{"t":31,"x":3.3,"y":10.5,"c":"g"},{"t":31,"x":4.4,"y":14,"c":"g"},{"t":31,"x":5.6,"y":17.4,"c":"g"},{"t":31,"x":6.9,"y":20.6,"c":"g"},{"t":31,"x":8.3,"y":23.6,"c":"g"},{"t":31,"x":9.9,"y":26.4,"c":"g"},{"t":31,"x":11.6,"y":29,"c":"g"},{"t":31,"x":13.5,"y":31.3,"c":"g"},{"t":31,"x":15.5,"y":33.4,"c":"g"},{"t":31,"x":17.7,"y":35.2,"c":"g"},{"t":31,"x":20,"y":36.8,"c":"g"},{"t":31,"x":22.4,"y":38.1,"c":"g"},{"t":31,"x":24.9,"y":39.1,"c":"g"},{"t":31,"x":27.5,"y":39.8,"c":"g"},{"t":31,"x":30.2,"y":40.2,"c":"k"},{"t":31,"x":32.5,"y":40,"c":"k"},{"t":31,"x":34.3,"y":39.2,"c":"k"},{"t":31,"x":35.4,"y":38,"c":"r"},{"t":31,"x":35.8,"y":36.5,"c":"r"},{"t":31,"x":35.5,"y":34.9,"c":"r"},{"t":31,"x":34.6,"y":33.3,"c":"r"},{"t":31,"x":33.2,"y":31.7,"c":"r"},{"t":31,"x":31.4,"y":30.2,"c":"r"},{"t":31,"x":29.3,"y":28.7,"c":"r"},{"t":31,"x":26.9,"y":27.2,"c":"r"},{"t":31,"x":24.3,"y":25.7,"c":"r"},{"t":31,"x":21.6,"y":24.2,"c":"r"},{"t":31,"x":18.9,"y":22.6,"c":"r"},{"t":31,"x":16.3,"y":20.9,"c":"r"},{"t":31,"x":13.8,"y":19.1,"c":"r"},{"t":31,"x":11.5,"y":17.1,"c":"r"},{"t":31,"x":9.5,"y":15,"c":"r"},{"t":31,"x":7.7,"y":12.7,"c":"r"},{"t":31,"x":6.2,"y":10.3,"c":"r"},{"t":31,"x":5,"y":7.8,"c":"r"},{"t":31,"x":4,"y":5.2,"c":"r"},{"t":31,"x":3.2,"y":2.6,"c":"r"},{"t":31,"x":2.7,"y":0.5,"c":"r"},
{"t":32,"x":0.1,"y":0,"c":"g"},{"t":32,"x":0.5,"y":4,"c":"g"},{"t":32,"x":1,"y":8,"c":"g"},{"t":32,"x":1.6,"y":12,"c":"g"},{"t":32,"x":2.3,"y":15.8,"c":"g"},{"t":32,"x":3.1,"y":19.4,"c":"g"},{"t":32,"x":4,"y":22.8,"c":"g"},{"t":32,"x":5.1,"y":26,"c":"g"},{"t":32,"x":6.4,"y":28.9,"c":"g"},{"t":32,"x":7.9,"y":31.5,"c":"g"},{"t":32,"x":9.6,"y":33.6,"c":"g"},{"t":32,"x":11.5,"y":35.3,"c":"g"},{"t":32,"x":13.6,"y":36.5,"c":"g"},{"t":32,"x":15.9,"y":37.2,"c":"g"},{"t":32,"x":18.3,"y":37.5,"c":"g"},{"t":32,"x":20.8,"y":37.4,"c":"k"},{"t":32,"x":23,"y":36.8,"c":"k"},{"t":32,"x":24.7,"y":35.7,"c":"k"},{"t":32,"x":25.8,"y":34.3,"c":"k"},{"t":32,"x":26.3,"y":32.7,"c":"r"},{"t":32,"x":26.2,"y":31,"c":"r"},{"t":32,"x":25.5,"y":29.4,"c":"r"},{"t":32,"x":24.3,"y":27.9,"c":"r"},{"t":32,"x":22.7,"y":26.5,"c":"r"},{"t":32,"x":20.8,"y":25.2,"c":"r"},{"t":32,"x":18.7,"y":24,"c":"r"},{"t":32,"x":16.5,"y":22.8,"c":"r"},{"t":32,"x":14.3,"y":21.4,"c":"r"},{"t":32,"x":12.2,"y":19.9,"c":"r"},{"t":32,"x":10.3,"y":18.2,"c":"r"},{"t":32,"x":8.6,"y":16.3,"c":"r"},{"t":32,"x":7.2,"y":14.2,"c":"r"},{"t":32,"x":6,"y":11.9,"c":"r"},{"t":32,"x":5,"y":9.5,"c":"r"},{"t":32,"x":4.2,"y":7,"c":"r"},{"t":32,"x":3.5,"y":4.5,"c":"r"},{"t":32,"x":3,"y":2,"c":"r"},{"t":32,"x":2.6,"y":0.3,"c":"r"},
{"t":33,"x":0.4,"y":0,"c":"g"},{"t":33,"x":0.9,"y":4,"c":"g"},{"t":33,"x":1.5,"y":8,"c":"g"},{"t":33,"x":2.2,"y":12,"c":"g"},{"t":33,"x":3,"y":16,"c":"g"},{"t":33,"x":3.9,"y":19.8,"c":"g"},{"t":33,"x":4.9,"y":23.4,"c":"g"},{"t":33,"x":6.1,"y":26.8,"c":"g"},{"t":33,"x":7.5,"y":30,"c":"g"},{"t":33,"x":9.1,"y":33,"c":"g"},{"t":33,"x":10.9,"y":35.7,"c":"g"},{"t":33,"x":12.9,"y":38.1,"c":"g"},{"t":33,"x":15.1,"y":40.1,"c":"g"},{"t":33,"x":17.5,"y":41.8,"c":"g"},{"t":33,"x":20.1,"y":43.1,"c":"g"},{"t":33,"x":22.8,"y":44.1,"c":"g"},{"t":33,"x":25.6,"y":44.8,"c":"g"},{"t":33,"x":28.5,"y":45.2,"c":"g"},{"t":33,"x":31.4,"y":45.4,"c":"k"},{"t":33,"x":33.9,"y":45,"c":"k"},{"t":33,"x":35.9,"y":44.1,"c":"k"},{"t":33,"x":37.3,"y":42.7,"c":"k"},{"t":33,"x":38,"y":41,"c":"k"},{"t":33,"x":38.1,"y":39.1,"c":"r"},{"t":33,"x":37.5,"y":37.2,"c":"r"},{"t":33,"x":36.3,"y":35.4,"c":"r"},{"t":33,"x":34.6,"y":33.7,"c":"r"},{"t":33,"x":32.5,"y":32.1,"c":"r"},{"t":33,"x":30.1,"y":30.6,"c":"r"},{"t":33,"x":27.5,"y":29.1,"c":"r"},{"t":33,"x":24.8,"y":27.6,"c":"r"},{"t":33,"x":22.1,"y":26,"c":"r"},{"t":33,"x":19.5,"y":24.3,"c":"r"},{"t":33,"x":17.1,"y":22.5,"c":"r"},{"t":33,"x":14.9,"y":20.6,"c":"r"},{"t":33,"x":12.9,"y":18.6,"c":"r"},{"t":33,"x":11.1,"y":16.5,"c":"r"},{"t":33,"x":9.5,"y":14.3,"c":"r"},{"t":33,"x":8.1,"y":12,"c":"r"},{"t":33,"x":6.8,"y":9.6,"c":"r"},{"t":33,"x":5.6,"y":7.1,"c":"r"},{"t":33,"x":4.5,"y":4.6,"c":"r"},{"t":33,"x":3.5,"y":2.1,"c":"r"},{"t":33,"x":2.8,"y":0.4,"c":"r"}
]
},
"hconcat":[
{"width":370,"height":421,
"resolve":{"axis":{"x":"independent","y":"independent"}},
"layer":[
{"data":{"name":"a"},"mark":{"type":"line","color":"#3fdcdc","strokeWidth":1},
"encoding":{"x":{"field":"x","type":"quantitative","scale":{"domain":[-10,80],"nice":false,"zero":false},"axis":{"orient":"bottom","values":[0,10,20,30,40,50,60,70,80],"ticks":false,"labelPadding":15,"labelFlush":false,"labelOverlap":false,"title":"h\u00a0\u00a0\u00a0(Penelopa),\u00a0\u00a0\u00a0m","titleX":370.5,"titleY":78,"titleAlign":"center","titleBaseline":"alphabetic"}},
"y":{"field":"y","type":"quantitative","scale":{"domain":[-10,90],"nice":false,"zero":false},"axis":{"orient":"left","values":[0,10,20,30,40,50,60,70,80,90],"ticks":false,"labelPadding":13,"labelFlush":false,"labelOverlap":false,"title":"h\u00a0\u00a0\u00a0(Morozov),\u00a0\u00a0\u00a0m","titleX":-78,"titleY":210.5,"titleAngle":270,"titleAlign":"center","titleBaseline":"alphabetic"}},
"detail":{"field":"t","type":"nominal"},"order":{"value":null}}},
{"data":{"name":"d"},"mark":{"type":"line","color":"#eeee50","strokeWidth":1},
"encoding":{"x":{"field":"x","type":"quantitative","scale":{"domain":[-10,80],"nice":false,"zero":false},"axis":{"orient":"bottom","values":[0,10,20,30,40,50,60,70],"labels":false,"tickSize":14,"offset":-14,"title":null}},
"y":{"field":"y","type":"quantitative","scale":{"domain":[-10,90],"nice":false,"zero":false},"axis":{"orient":"left","values":[0,10,20,30,40,50,60,70,80],"labels":false,"tickSize":14,"offset":-14,"title":null}}}},
{"data":{"name":"a"},"mark":{"type":"circle","size":24,"opacity":1},
"encoding":{"x":{"field":"x","type":"quantitative","scale":{"domain":[-10,80],"nice":false,"zero":false},"axis":{"orient":"bottom","values":[-5,5,15,25,35,45,55,65,75],"labels":false,"tickSize":8,"offset":-8,"title":null}},
"y":{"field":"y","type":"quantitative","scale":{"domain":[-10,90],"nice":false,"zero":false},"axis":{"orient":"left","values":[-5,5,15,25,35,45,55,65,75,85],"labels":false,"tickSize":8,"offset":-8,"title":null}},
"color":{"field":"c","type":"nominal","scale":{"domain":["g","k","r"],"range":["#22dd22","#000000","#dd2020"]},"legend":null}}},
{"data":{"values":[{"x":-2.8,"y":82,"s":"summer-winter"}]},"mark":{"type":"text","align":"left","baseline":"middle","font":"DejaVu Serif","fontWeight":"bold","fontSize":17.5,"color":"black"},
"encoding":{"x":{"field":"x","type":"quantitative","scale":{"domain":[-10,80],"nice":false,"zero":false},"axis":{"orient":"top","values":[0,10,20,30,40,50,60,70],"labels":false,"tickSize":14,"offset":-14,"title":null}},
"y":{"field":"y","type":"quantitative","scale":{"domain":[-10,90],"nice":false,"zero":false},"axis":{"orient":"right","values":[0,10,20,30,40,50,60,70,80],"labels":false,"tickSize":14,"offset":-14,"title":null}},
"text":{"field":"s","type":"nominal"}}},
{"data":{"name":"d"},"mark":{"type":"point","opacity":0},
"encoding":{"x":{"field":"x","type":"quantitative","scale":{"domain":[-10,80],"nice":false,"zero":false},"axis":{"orient":"top","values":[-5,5,15,25,35,45,55,65,75],"labels":false,"tickSize":8,"offset":-8,"title":null}},
"y":{"field":"y","type":"quantitative","scale":{"domain":[-10,90],"nice":false,"zero":false},"axis":{"orient":"right","values":[-5,5,15,25,35,45,55,65,75,85],"labels":false,"tickSize":8,"offset":-8,"title":null}}}}
]},
{"width":371,"height":421,
"resolve":{"axis":{"x":"independent","y":"independent"}},
"layer":[
{"data":{"name":"b"},"mark":{"type":"line","color":"#3fdcdc","strokeWidth":1},
"encoding":{"x":{"field":"x","type":"quantitative","scale":{"domain":[-10,80],"nice":false,"zero":false},"axis":{"orient":"bottom","values":[0,10,20,30,40,50,60,70,80],"ticks":false,"labelPadding":15,"labelFlush":false,"labelOverlap":false,"title":null}},
"y":{"field":"y","type":"quantitative","scale":{"domain":[-10,90],"nice":false,"zero":false},"axis":null},
"detail":{"field":"t","type":"nominal"},"order":{"value":null}}},
{"data":{"name":"d"},"mark":{"type":"line","color":"#eeee50","strokeWidth":1},
"encoding":{"x":{"field":"x","type":"quantitative","scale":{"domain":[-10,80],"nice":false,"zero":false},"axis":{"orient":"bottom","values":[0,10,20,30,40,50,60,70],"labels":false,"tickSize":14,"offset":-14,"title":null}},
"y":{"field":"y","type":"quantitative","scale":{"domain":[-10,90],"nice":false,"zero":false},"axis":{"orient":"left","values":[0,10,20,30,40,50,60,70,80],"labels":false,"tickSize":14,"offset":-14,"title":null}}}},
{"data":{"name":"b"},"mark":{"type":"circle","size":24,"opacity":1},
"encoding":{"x":{"field":"x","type":"quantitative","scale":{"domain":[-10,80],"nice":false,"zero":false},"axis":{"orient":"bottom","values":[-5,5,15,25,35,45,55,65,75],"labels":false,"tickSize":8,"offset":-8,"title":null}},
"y":{"field":"y","type":"quantitative","scale":{"domain":[-10,90],"nice":false,"zero":false},"axis":{"orient":"left","values":[-5,5,15,25,35,45,55,65,75,85],"labels":false,"tickSize":8,"offset":-8,"title":null}},
"color":{"field":"c","type":"nominal","scale":{"domain":["g","k","r"],"range":["#22dd22","#000000","#dd2020"]},"legend":null}}},
{"data":{"values":[{"x":-2.8,"y":82,"s":"spring"}]},"mark":{"type":"text","align":"left","baseline":"middle","font":"DejaVu Serif","fontWeight":"bold","fontSize":17.5,"color":"black"},
"encoding":{"x":{"field":"x","type":"quantitative","scale":{"domain":[-10,80],"nice":false,"zero":false},"axis":{"orient":"top","values":[0,10,20,30,40,50,60,70],"labels":false,"tickSize":14,"offset":-14,"title":null}},
"y":{"field":"y","type":"quantitative","scale":{"domain":[-10,90],"nice":false,"zero":false},"axis":{"orient":"right","values":[0,10,20,30,40,50,60,70,80],"labels":false,"tickSize":14,"offset":-14,"title":null}},
"text":{"field":"s","type":"nominal"}}},
{"data":{"name":"d"},"mark":{"type":"point","opacity":0},
"encoding":{"x":{"field":"x","type":"quantitative","scale":{"domain":[-10,80],"nice":false,"zero":false},"axis":{"orient":"top","values":[-5,5,15,25,35,45,55,65,75],"labels":false,"tickSize":8,"offset":-8,"title":null}},
"y":{"field":"y","type":"quantitative","scale":{"domain":[-10,90],"nice":false,"zero":false},"axis":{"orient":"right","values":[-5,5,15,25,35,45,55,65,75,85],"labels":false,"tickSize":8,"offset":-8,"title":null}}}}
]}
]
}
